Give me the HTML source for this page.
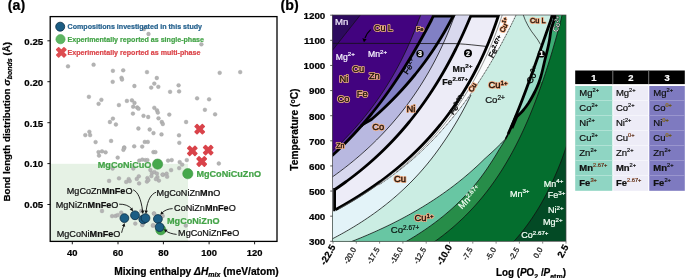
<!DOCTYPE html>
<html><head><meta charset="utf-8"><style>
html,body{margin:0;padding:0;background:#fff;}
svg{display:block;font-family:"Liberation Sans", sans-serif;will-change:transform;}
</style></head><body>
<svg xmlns="http://www.w3.org/2000/svg" width="685" height="278" viewBox="0 0 685 278">
<rect width="685" height="278" fill="#fff"/>
<text x="7.8" y="9.9" font-size="14.2" font-weight="bold" stroke="#000" stroke-width="0.22">(a)</text>
<rect x="50.2" y="163.8" width="137.8" height="77.5" fill="#e6f2e5"/>
<circle cx="144" cy="29" r="1.9" fill="#b3b3b3" stroke="#a2a2a2" stroke-width="0.4"/>
<circle cx="148.5" cy="34" r="1.9" fill="#b3b3b3" stroke="#a2a2a2" stroke-width="0.4"/>
<circle cx="201.4" cy="44.3" r="1.9" fill="#b3b3b3" stroke="#a2a2a2" stroke-width="0.4"/>
<circle cx="68.0" cy="66.3" r="1.9" fill="#b3b3b3" stroke="#a2a2a2" stroke-width="0.4"/>
<circle cx="93.6" cy="64.7" r="1.9" fill="#b3b3b3" stroke="#a2a2a2" stroke-width="0.4"/>
<circle cx="112.9" cy="70.8" r="1.9" fill="#b3b3b3" stroke="#a2a2a2" stroke-width="0.4"/>
<circle cx="123.2" cy="70.3" r="1.9" fill="#b3b3b3" stroke="#a2a2a2" stroke-width="0.4"/>
<circle cx="147.0" cy="72.1" r="1.9" fill="#b3b3b3" stroke="#a2a2a2" stroke-width="0.4"/>
<circle cx="121.5" cy="77.8" r="1.9" fill="#b3b3b3" stroke="#a2a2a2" stroke-width="0.4"/>
<circle cx="122.0" cy="79.5" r="1.9" fill="#b3b3b3" stroke="#a2a2a2" stroke-width="0.4"/>
<circle cx="112.7" cy="81.8" r="1.9" fill="#b3b3b3" stroke="#a2a2a2" stroke-width="0.4"/>
<circle cx="156.8" cy="78.0" r="1.9" fill="#b3b3b3" stroke="#a2a2a2" stroke-width="0.4"/>
<circle cx="154.3" cy="83.6" r="1.9" fill="#b3b3b3" stroke="#a2a2a2" stroke-width="0.4"/>
<circle cx="134.4" cy="86.0" r="1.9" fill="#b3b3b3" stroke="#a2a2a2" stroke-width="0.4"/>
<circle cx="151.2" cy="87.6" r="1.9" fill="#b3b3b3" stroke="#a2a2a2" stroke-width="0.4"/>
<circle cx="158.3" cy="86.8" r="1.9" fill="#b3b3b3" stroke="#a2a2a2" stroke-width="0.4"/>
<circle cx="88.9" cy="96.8" r="1.9" fill="#b3b3b3" stroke="#a2a2a2" stroke-width="0.4"/>
<circle cx="101.4" cy="99.8" r="1.9" fill="#b3b3b3" stroke="#a2a2a2" stroke-width="0.4"/>
<circle cx="98.6" cy="103.8" r="1.9" fill="#b3b3b3" stroke="#a2a2a2" stroke-width="0.4"/>
<circle cx="126.9" cy="100.9" r="1.9" fill="#b3b3b3" stroke="#a2a2a2" stroke-width="0.4"/>
<circle cx="131.9" cy="100.3" r="1.9" fill="#b3b3b3" stroke="#a2a2a2" stroke-width="0.4"/>
<circle cx="134.5" cy="102.9" r="1.9" fill="#b3b3b3" stroke="#a2a2a2" stroke-width="0.4"/>
<circle cx="118.9" cy="105.1" r="1.9" fill="#b3b3b3" stroke="#a2a2a2" stroke-width="0.4"/>
<circle cx="219.7" cy="72.8" r="1.9" fill="#b3b3b3" stroke="#a2a2a2" stroke-width="0.4"/>
<circle cx="240.2" cy="72.1" r="1.9" fill="#b3b3b3" stroke="#a2a2a2" stroke-width="0.4"/>
<circle cx="178.6" cy="85.3" r="1.9" fill="#b3b3b3" stroke="#a2a2a2" stroke-width="0.4"/>
<circle cx="170.1" cy="91.8" r="1.9" fill="#b3b3b3" stroke="#a2a2a2" stroke-width="0.4"/>
<circle cx="179.1" cy="91.4" r="1.9" fill="#b3b3b3" stroke="#a2a2a2" stroke-width="0.4"/>
<circle cx="197.1" cy="98.3" r="1.9" fill="#b3b3b3" stroke="#a2a2a2" stroke-width="0.4"/>
<circle cx="209.1" cy="99.3" r="1.9" fill="#b3b3b3" stroke="#a2a2a2" stroke-width="0.4"/>
<circle cx="133.2" cy="106.7" r="1.9" fill="#b3b3b3" stroke="#a2a2a2" stroke-width="0.4"/>
<circle cx="137.2" cy="107.5" r="1.9" fill="#b3b3b3" stroke="#a2a2a2" stroke-width="0.4"/>
<circle cx="138.5" cy="108.7" r="1.9" fill="#b3b3b3" stroke="#a2a2a2" stroke-width="0.4"/>
<circle cx="154.3" cy="107.8" r="1.9" fill="#b3b3b3" stroke="#a2a2a2" stroke-width="0.4"/>
<circle cx="157.0" cy="110.3" r="1.9" fill="#b3b3b3" stroke="#a2a2a2" stroke-width="0.4"/>
<circle cx="157.8" cy="112.6" r="1.9" fill="#b3b3b3" stroke="#a2a2a2" stroke-width="0.4"/>
<circle cx="132.9" cy="113.6" r="1.9" fill="#b3b3b3" stroke="#a2a2a2" stroke-width="0.4"/>
<circle cx="143.5" cy="115.8" r="1.9" fill="#b3b3b3" stroke="#a2a2a2" stroke-width="0.4"/>
<circle cx="148.2" cy="117.0" r="1.9" fill="#b3b3b3" stroke="#a2a2a2" stroke-width="0.4"/>
<circle cx="158.5" cy="118.3" r="1.9" fill="#b3b3b3" stroke="#a2a2a2" stroke-width="0.4"/>
<circle cx="112.9" cy="118.6" r="1.9" fill="#b3b3b3" stroke="#a2a2a2" stroke-width="0.4"/>
<circle cx="109.9" cy="122.0" r="1.9" fill="#b3b3b3" stroke="#a2a2a2" stroke-width="0.4"/>
<circle cx="115.9" cy="124.5" r="1.9" fill="#b3b3b3" stroke="#a2a2a2" stroke-width="0.4"/>
<circle cx="161.8" cy="122.0" r="1.9" fill="#b3b3b3" stroke="#a2a2a2" stroke-width="0.4"/>
<circle cx="162.8" cy="124.0" r="1.9" fill="#b3b3b3" stroke="#a2a2a2" stroke-width="0.4"/>
<circle cx="138.4" cy="128.5" r="1.9" fill="#b3b3b3" stroke="#a2a2a2" stroke-width="0.4"/>
<circle cx="149.7" cy="129.5" r="1.9" fill="#b3b3b3" stroke="#a2a2a2" stroke-width="0.4"/>
<circle cx="153.5" cy="133.1" r="1.9" fill="#b3b3b3" stroke="#a2a2a2" stroke-width="0.4"/>
<circle cx="161.5" cy="134.4" r="1.9" fill="#b3b3b3" stroke="#a2a2a2" stroke-width="0.4"/>
<circle cx="89.4" cy="131.8" r="1.9" fill="#b3b3b3" stroke="#a2a2a2" stroke-width="0.4"/>
<circle cx="85.3" cy="135.1" r="1.9" fill="#b3b3b3" stroke="#a2a2a2" stroke-width="0.4"/>
<circle cx="90.1" cy="135.1" r="1.9" fill="#b3b3b3" stroke="#a2a2a2" stroke-width="0.4"/>
<circle cx="95.6" cy="142.1" r="1.9" fill="#b3b3b3" stroke="#a2a2a2" stroke-width="0.4"/>
<circle cx="111.1" cy="140.9" r="1.9" fill="#b3b3b3" stroke="#a2a2a2" stroke-width="0.4"/>
<circle cx="144.8" cy="141.9" r="1.9" fill="#b3b3b3" stroke="#a2a2a2" stroke-width="0.4"/>
<circle cx="147.8" cy="141.9" r="1.9" fill="#b3b3b3" stroke="#a2a2a2" stroke-width="0.4"/>
<circle cx="124.2" cy="147.4" r="1.9" fill="#b3b3b3" stroke="#a2a2a2" stroke-width="0.4"/>
<circle cx="134.2" cy="146.3" r="1.9" fill="#b3b3b3" stroke="#a2a2a2" stroke-width="0.4"/>
<circle cx="142.2" cy="146.6" r="1.9" fill="#b3b3b3" stroke="#a2a2a2" stroke-width="0.4"/>
<circle cx="169.3" cy="114.6" r="1.9" fill="#b3b3b3" stroke="#a2a2a2" stroke-width="0.4"/>
<circle cx="204.9" cy="109.8" r="1.9" fill="#b3b3b3" stroke="#a2a2a2" stroke-width="0.4"/>
<circle cx="215.1" cy="114.3" r="1.9" fill="#b3b3b3" stroke="#a2a2a2" stroke-width="0.4"/>
<circle cx="186.1" cy="122.0" r="1.9" fill="#b3b3b3" stroke="#a2a2a2" stroke-width="0.4"/>
<circle cx="179.0" cy="135.3" r="1.9" fill="#b3b3b3" stroke="#a2a2a2" stroke-width="0.4"/>
<circle cx="179.3" cy="142.8" r="1.9" fill="#b3b3b3" stroke="#a2a2a2" stroke-width="0.4"/>
<circle cx="124.2" cy="148.1" r="1.9" fill="#b3b3b3" stroke="#a2a2a2" stroke-width="0.4"/>
<circle cx="123.4" cy="149.8" r="1.9" fill="#b3b3b3" stroke="#a2a2a2" stroke-width="0.4"/>
<circle cx="98.5" cy="152.1" r="1.9" fill="#b3b3b3" stroke="#a2a2a2" stroke-width="0.4"/>
<circle cx="102" cy="151.3" r="1.9" fill="#b3b3b3" stroke="#a2a2a2" stroke-width="0.4"/>
<circle cx="105.6" cy="152.3" r="1.9" fill="#b3b3b3" stroke="#a2a2a2" stroke-width="0.4"/>
<circle cx="99" cy="155.6" r="1.9" fill="#b3b3b3" stroke="#a2a2a2" stroke-width="0.4"/>
<circle cx="117.7" cy="157.6" r="1.9" fill="#b3b3b3" stroke="#a2a2a2" stroke-width="0.4"/>
<circle cx="153.4" cy="152.1" r="1.9" fill="#b3b3b3" stroke="#a2a2a2" stroke-width="0.4"/>
<circle cx="155.4" cy="152.1" r="1.9" fill="#b3b3b3" stroke="#a2a2a2" stroke-width="0.4"/>
<circle cx="139.3" cy="160.6" r="1.9" fill="#b3b3b3" stroke="#a2a2a2" stroke-width="0.4"/>
<circle cx="142.3" cy="159.6" r="1.9" fill="#b3b3b3" stroke="#a2a2a2" stroke-width="0.4"/>
<circle cx="145.3" cy="160.1" r="1.9" fill="#b3b3b3" stroke="#a2a2a2" stroke-width="0.4"/>
<circle cx="147.4" cy="160.1" r="1.9" fill="#b3b3b3" stroke="#a2a2a2" stroke-width="0.4"/>
<circle cx="168.1" cy="160.6" r="1.9" fill="#b3b3b3" stroke="#a2a2a2" stroke-width="0.4"/>
<circle cx="171.7" cy="160.1" r="1.9" fill="#b3b3b3" stroke="#a2a2a2" stroke-width="0.4"/>
<circle cx="179.7" cy="162.1" r="1.9" fill="#b3b3b3" stroke="#a2a2a2" stroke-width="0.4"/>
<circle cx="182.2" cy="164.6" r="1.9" fill="#b3b3b3" stroke="#a2a2a2" stroke-width="0.4"/>
<circle cx="179.2" cy="168.1" r="1.9" fill="#b3b3b3" stroke="#a2a2a2" stroke-width="0.4"/>
<circle cx="186.8" cy="160.1" r="1.9" fill="#b3b3b3" stroke="#a2a2a2" stroke-width="0.4"/>
<circle cx="171.1" cy="170.1" r="1.9" fill="#b3b3b3" stroke="#a2a2a2" stroke-width="0.4"/>
<circle cx="218.8" cy="163.5" r="1.9" fill="#b3b3b3" stroke="#a2a2a2" stroke-width="0.4"/>
<circle cx="163.1" cy="174.7" r="1.9" fill="#b3b3b3" stroke="#a2a2a2" stroke-width="0.4"/>
<circle cx="166.6" cy="173.7" r="1.9" fill="#b3b3b3" stroke="#a2a2a2" stroke-width="0.4"/>
<circle cx="167.1" cy="176.7" r="1.9" fill="#b3b3b3" stroke="#a2a2a2" stroke-width="0.4"/>
<circle cx="109.1" cy="180.9" r="1.9" fill="#b3b3b3" stroke="#a2a2a2" stroke-width="0.4"/>
<circle cx="119" cy="178.3" r="1.9" fill="#b3b3b3" stroke="#a2a2a2" stroke-width="0.4"/>
<circle cx="126.2" cy="181.9" r="1.9" fill="#b3b3b3" stroke="#a2a2a2" stroke-width="0.4"/>
<circle cx="128.7" cy="179.1" r="1.9" fill="#b3b3b3" stroke="#a2a2a2" stroke-width="0.4"/>
<circle cx="129.7" cy="181.1" r="1.9" fill="#b3b3b3" stroke="#a2a2a2" stroke-width="0.4"/>
<circle cx="136.8" cy="178.9" r="1.9" fill="#b3b3b3" stroke="#a2a2a2" stroke-width="0.4"/>
<circle cx="138.8" cy="176.3" r="1.9" fill="#b3b3b3" stroke="#a2a2a2" stroke-width="0.4"/>
<circle cx="139.1" cy="183.4" r="1.9" fill="#b3b3b3" stroke="#a2a2a2" stroke-width="0.4"/>
<circle cx="147.4" cy="178.1" r="1.9" fill="#b3b3b3" stroke="#a2a2a2" stroke-width="0.4"/>
<circle cx="146.9" cy="181.6" r="1.9" fill="#b3b3b3" stroke="#a2a2a2" stroke-width="0.4"/>
<circle cx="150.4" cy="170" r="1.9" fill="#b3b3b3" stroke="#a2a2a2" stroke-width="0.4"/>
<circle cx="151.9" cy="173.1" r="1.9" fill="#b3b3b3" stroke="#a2a2a2" stroke-width="0.4"/>
<circle cx="151.4" cy="176.1" r="1.9" fill="#b3b3b3" stroke="#a2a2a2" stroke-width="0.4"/>
<circle cx="154.4" cy="172.1" r="1.9" fill="#b3b3b3" stroke="#a2a2a2" stroke-width="0.4"/>
<circle cx="156.9" cy="173.6" r="1.9" fill="#b3b3b3" stroke="#a2a2a2" stroke-width="0.4"/>
<circle cx="157.4" cy="177.1" r="1.9" fill="#b3b3b3" stroke="#a2a2a2" stroke-width="0.4"/>
<circle cx="158.9" cy="180.6" r="1.9" fill="#b3b3b3" stroke="#a2a2a2" stroke-width="0.4"/>
<circle cx="155.9" cy="179.1" r="1.9" fill="#b3b3b3" stroke="#a2a2a2" stroke-width="0.4"/>
<circle cx="162.5" cy="174.6" r="1.9" fill="#b3b3b3" stroke="#a2a2a2" stroke-width="0.4"/>
<circle cx="148.4" cy="180.1" r="1.9" fill="#b3b3b3" stroke="#a2a2a2" stroke-width="0.4"/>
<circle cx="112.6" cy="168.5" r="1.9" fill="#b3b3b3" stroke="#a2a2a2" stroke-width="0.4"/>
<circle cx="133.3" cy="168.5" r="1.9" fill="#b3b3b3" stroke="#a2a2a2" stroke-width="0.4"/>
<circle cx="102" cy="211" r="1.9" fill="#b3b3b3" stroke="#a2a2a2" stroke-width="0.4"/>
<circle cx="112.1" cy="216.1" r="1.9" fill="#b3b3b3" stroke="#a2a2a2" stroke-width="0.4"/>
<circle cx="115.6" cy="215.9" r="1.9" fill="#b3b3b3" stroke="#a2a2a2" stroke-width="0.4"/>
<circle cx="117.7" cy="215.1" r="1.9" fill="#b3b3b3" stroke="#a2a2a2" stroke-width="0.4"/>
<circle cx="121.2" cy="212.6" r="1.9" fill="#b3b3b3" stroke="#a2a2a2" stroke-width="0.4"/>
<circle cx="135.3" cy="223.6" r="1.9" fill="#b3b3b3" stroke="#a2a2a2" stroke-width="0.4"/>
<circle cx="142.3" cy="225.1" r="1.9" fill="#b3b3b3" stroke="#a2a2a2" stroke-width="0.4"/>
<circle cx="141.3" cy="211" r="1.9" fill="#b3b3b3" stroke="#a2a2a2" stroke-width="0.4"/>
<circle cx="153.9" cy="213.6" r="1.9" fill="#b3b3b3" stroke="#a2a2a2" stroke-width="0.4"/>
<circle cx="152.9" cy="225.7" r="1.9" fill="#b3b3b3" stroke="#a2a2a2" stroke-width="0.4"/>
<circle cx="153.1" cy="225.1" r="1.9" fill="#b3b3b3" stroke="#a2a2a2" stroke-width="0.4"/>
<circle cx="142.5" cy="224.6" r="1.9" fill="#b3b3b3" stroke="#a2a2a2" stroke-width="0.4"/>
<circle cx="185.8" cy="225.6" r="1.9" fill="#b3b3b3" stroke="#a2a2a2" stroke-width="0.4"/>
<circle cx="154.1" cy="213.5" r="1.9" fill="#b3b3b3" stroke="#a2a2a2" stroke-width="0.4"/>
<circle cx="162.7" cy="216" r="1.9" fill="#b3b3b3" stroke="#a2a2a2" stroke-width="0.4"/>
<g transform="translate(199.7,129.2) rotate(45)" fill="#d9434a"><rect x="-5.90" y="-2.15" width="11.80" height="4.3" rx="0.8"/><rect x="-2.15" y="-5.90" width="4.3" height="11.80" rx="0.8"/></g>
<g transform="translate(192.3,150.9) rotate(45)" fill="#d9434a"><rect x="-5.90" y="-2.15" width="11.80" height="4.3" rx="0.8"/><rect x="-2.15" y="-5.90" width="4.3" height="11.80" rx="0.8"/></g>
<g transform="translate(208.2,150.1) rotate(45)" fill="#d9434a"><rect x="-5.90" y="-2.15" width="11.80" height="4.3" rx="0.8"/><rect x="-2.15" y="-5.90" width="4.3" height="11.80" rx="0.8"/></g>
<g transform="translate(201.7,161.5) rotate(45)" fill="#d9434a"><rect x="-5.90" y="-2.15" width="11.80" height="4.3" rx="0.8"/><rect x="-2.15" y="-5.90" width="4.3" height="11.80" rx="0.8"/></g>
<circle cx="157.6" cy="164.1" r="5.1" fill="#46a84c" stroke="#3c9442" stroke-width="0.6"/>
<circle cx="187.8" cy="173.7" r="5.1" fill="#46a84c" stroke="#3c9442" stroke-width="0.6"/>
<circle cx="160.8" cy="229.8" r="5.1" fill="#46a84c" stroke="#3c9442" stroke-width="0.6"/>
<circle cx="124.4" cy="218.1" r="4.4" fill="#1b5d84" stroke="#0b2c42" stroke-width="0.8"/>
<circle cx="135.0" cy="215.3" r="4.4" fill="#1b5d84" stroke="#0b2c42" stroke-width="0.8"/>
<circle cx="143.3" cy="219.4" r="4.4" fill="#1b5d84" stroke="#0b2c42" stroke-width="0.8"/>
<circle cx="145.5" cy="218.1" r="4.4" fill="#1b5d84" stroke="#0b2c42" stroke-width="0.8"/>
<circle cx="157.9" cy="219.0" r="4.4" fill="#1b5d84" stroke="#0b2c42" stroke-width="0.8"/>
<circle cx="159.6" cy="227.1" r="4.4" fill="#1b5d84" stroke="#0b2c42" stroke-width="0.8"/>
<circle cx="60.2" cy="26.7" r="4.5" fill="#1b5d84" stroke="#0b2c42" stroke-width="0.8"/>
<circle cx="60.5" cy="39.2" r="4.6" fill="#5db562" stroke="#4aa44f" stroke-width="0.6"/>
<g transform="translate(61.3,52.3) rotate(45)" fill="#dd4c50"><rect x="-5.90" y="-2.15" width="11.80" height="4.3" rx="0.8"/><rect x="-2.15" y="-5.90" width="4.3" height="11.80" rx="0.8"/></g>
<text x="67.6" y="28.9" font-size="7.1" font-weight="bold" fill="#27638f" stroke="#27638f" stroke-width="0.22">Compositions investigated in this study</text>
<text x="67.6" y="41.6" font-size="7.1" font-weight="bold" fill="#45a449" stroke="#45a449" stroke-width="0.22">Experimentally reported as single-phase</text>
<text x="67.6" y="54.6" font-size="7.1" font-weight="bold" fill="#dc474c" stroke="#dc474c" stroke-width="0.22">Experimentally reported as multi-phase</text>
<text x="132.5" y="193.6" font-size="9.1" fill="#111" text-anchor="end" stroke="#111" stroke-width="0.22"><tspan font-weight="normal">MgCoZn</tspan><tspan font-weight="bold">MnFe</tspan><tspan font-weight="normal">O</tspan></text>
<text x="118.4" y="207.7" font-size="9.1" fill="#111" text-anchor="end" stroke="#111" stroke-width="0.22"><tspan font-weight="normal">MgNiZn</tspan><tspan font-weight="bold">MnFe</tspan><tspan font-weight="normal">O</tspan></text>
<text x="120.4" y="236.7" font-size="9.1" fill="#111" text-anchor="end" stroke="#111" stroke-width="0.22"><tspan font-weight="normal">MgCoNi</tspan><tspan font-weight="bold">MnFe</tspan><tspan font-weight="normal">O</tspan></text>
<text x="156.6" y="196.4" font-size="9.1" fill="#111" text-anchor="start" stroke="#111" stroke-width="0.22"><tspan font-weight="normal">MgCoNiZn</tspan><tspan font-weight="bold">Mn</tspan><tspan font-weight="normal">O</tspan></text>
<text x="174.1" y="211.2" font-size="9.1" fill="#111" text-anchor="start" stroke="#111" stroke-width="0.22"><tspan font-weight="normal">CoNiZn</tspan><tspan font-weight="bold">MnFe</tspan><tspan font-weight="normal">O</tspan></text>
<text x="178.1" y="236.4" font-size="9.1" fill="#111" text-anchor="start" stroke="#111" stroke-width="0.22"><tspan font-weight="normal">MgCoNiZn</tspan><tspan font-weight="bold">Fe</tspan><tspan font-weight="normal">O</tspan></text>
<text x="167" y="224.4" font-size="9.1" font-weight="bold" fill="#43a347" stroke="#43a347" stroke-width="0.22">MgCoNiZnO</text>
<text x="97.8" y="168.2" font-size="9.1" font-weight="bold" fill="#43a347" stroke="#43a347" stroke-width="0.22">MgCoNiCuO</text>
<text x="196.4" y="177.4" font-size="9.1" font-weight="bold" fill="#43a347" stroke="#43a347" stroke-width="0.22">MgCoNiCuZnO</text>
<path d="M133.2,189.8 C138,192 141,199 142.6,211" fill="none" stroke="#111" stroke-width="0.9"/><polygon points="142.90,214.00 140.91,210.76 144.30,210.46" fill="#111"/>
<path d="M156.2,192.2 C151,194 147.5,200 146.1,211" fill="none" stroke="#111" stroke-width="0.9"/><polygon points="145.90,214.00 144.50,210.46 147.89,210.76" fill="#111"/>
<path d="M119.2,204.2 C124,204 129,205.5 131.6,208.8" fill="none" stroke="#111" stroke-width="0.9"/><polygon points="133.20,211.20 129.71,209.69 132.32,207.50" fill="#111"/>
<path d="M121.6,232.8 C122.3,230 123,228 123.8,226" fill="none" stroke="#111" stroke-width="0.9"/><polygon points="124.60,223.00 125.17,226.76 121.93,225.71" fill="#111"/>
<path d="M172.6,208.6 C168,208.8 164.5,210.5 162.3,212.6" fill="none" stroke="#111" stroke-width="0.9"/><polygon points="160.20,214.80 161.40,211.19 163.81,213.60" fill="#111"/>
<path d="M176.6,234.4 C172,234 168,232.5 166.4,231.2" fill="none" stroke="#111" stroke-width="0.9"/><polygon points="163.80,229.20 167.56,229.76 165.61,232.54" fill="#111"/>
<rect x="50.2" y="16.6" width="226.8" height="224.8" fill="none" stroke="#000" stroke-width="1.3"/>
<line x1="47.4" y1="40.8" x2="50.2" y2="40.8" stroke="#000" stroke-width="0.9"/>
<text x="43.2" y="44.6" font-size="9.7" font-weight="bold" text-anchor="end" stroke="#000" stroke-width="0.22">0.25</text>
<line x1="47.4" y1="81.7" x2="50.2" y2="81.7" stroke="#000" stroke-width="0.9"/>
<text x="43.2" y="85.5" font-size="9.7" font-weight="bold" text-anchor="end" stroke="#000" stroke-width="0.22">0.20</text>
<line x1="47.4" y1="122.7" x2="50.2" y2="122.7" stroke="#000" stroke-width="0.9"/>
<text x="43.2" y="126.5" font-size="9.7" font-weight="bold" text-anchor="end" stroke="#000" stroke-width="0.22">0.15</text>
<line x1="47.4" y1="163.6" x2="50.2" y2="163.6" stroke="#000" stroke-width="0.9"/>
<text x="43.2" y="167.4" font-size="9.7" font-weight="bold" text-anchor="end" stroke="#000" stroke-width="0.22">0.10</text>
<line x1="47.4" y1="204.5" x2="50.2" y2="204.5" stroke="#000" stroke-width="0.9"/>
<text x="43.2" y="208.3" font-size="9.7" font-weight="bold" text-anchor="end" stroke="#000" stroke-width="0.22">0.05</text>
<line x1="72.3" y1="241.4" x2="72.3" y2="244.3" stroke="#000" stroke-width="0.9"/>
<text x="72.3" y="255.9" font-size="9.4" font-weight="bold" text-anchor="middle" stroke="#000" stroke-width="0.22">40</text>
<line x1="118.0" y1="241.4" x2="118.0" y2="244.3" stroke="#000" stroke-width="0.9"/>
<text x="118.0" y="255.9" font-size="9.4" font-weight="bold" text-anchor="middle" stroke="#000" stroke-width="0.22">60</text>
<line x1="163.4" y1="241.4" x2="163.4" y2="244.3" stroke="#000" stroke-width="0.9"/>
<text x="163.4" y="255.9" font-size="9.4" font-weight="bold" text-anchor="middle" stroke="#000" stroke-width="0.22">80</text>
<line x1="209.1" y1="241.4" x2="209.1" y2="244.3" stroke="#000" stroke-width="0.9"/>
<text x="209.1" y="255.9" font-size="9.4" font-weight="bold" text-anchor="middle" stroke="#000" stroke-width="0.22">100</text>
<line x1="254.6" y1="241.4" x2="254.6" y2="244.3" stroke="#000" stroke-width="0.9"/>
<text x="254.6" y="255.9" font-size="9.4" font-weight="bold" text-anchor="middle" stroke="#000" stroke-width="0.22">120</text>
<text x="114.3" y="274.8" font-size="10.2" font-weight="bold" stroke="#000" stroke-width="0.22">Mixing enthalpy <tspan font-style="italic">ΔH</tspan><tspan font-style="italic" font-size="7" dy="2">mix</tspan><tspan dy="-2"> (meV/atom)</tspan></text>
<text transform="translate(9.7,121.8) rotate(-90)" text-anchor="middle" font-size="9.75" font-weight="bold" stroke="#000" stroke-width="0.22">Bond length distribution <tspan font-style="italic">σ</tspan><tspan font-style="italic" font-size="7" dy="2">bonds</tspan><tspan dy="-2"> (Å)</tspan></text>
<text x="280.6" y="9.9" font-size="14.2" font-weight="bold" stroke="#000" stroke-width="0.22">(b)</text>
<clipPath id="pc"><rect x="332.5" y="15.0" width="233.5" height="226.3"/></clipPath>
<g clip-path="url(#pc)">
<rect x="332.5" y="15.0" width="233.5" height="226.3" fill="#034a25"/>
<polygon points="300.00,13.00 594.80,13.00 594.67,14.00 594.53,15.00 594.39,16.00 594.25,17.00 594.11,18.00 593.97,19.00 593.83,20.00 593.68,21.00 593.54,22.00 593.40,23.00 593.25,24.00 593.11,25.00 592.96,26.00 592.81,27.00 592.67,28.00 592.52,29.00 592.37,30.00 592.22,31.00 592.06,32.00 591.91,33.00 591.76,34.00 591.61,35.00 591.45,36.00 591.29,37.00 591.14,38.00 590.98,39.00 590.82,40.00 590.66,41.00 590.50,42.00 590.34,43.00 590.18,44.00 590.01,45.00 589.85,46.00 589.69,47.00 589.52,48.00 589.35,49.00 589.18,50.00 589.02,51.00 588.85,52.00 588.67,53.00 588.50,54.00 588.33,55.00 588.15,56.00 587.98,57.00 587.80,58.00 587.62,59.00 587.45,60.00 587.27,61.00 587.09,62.00 586.90,63.00 586.72,64.00 586.54,65.00 586.35,66.00 586.16,67.00 585.98,68.00 585.79,69.00 585.60,70.00 585.41,71.00 585.21,72.00 585.02,73.00 584.83,74.00 584.63,75.00 584.43,76.00 584.23,77.00 584.03,78.00 583.83,79.00 583.63,80.00 583.42,81.00 583.22,82.00 583.01,83.00 582.80,84.00 582.59,85.00 582.38,86.00 582.17,87.00 581.96,88.00 581.74,89.00 581.53,90.00 581.31,91.00 581.09,92.00 580.87,93.00 580.64,94.00 580.42,95.00 580.19,96.00 579.97,97.00 579.74,98.00 579.51,99.00 579.28,100.00 579.04,101.00 578.81,102.00 578.57,103.00 578.33,104.00 578.09,105.00 577.85,106.00 577.60,107.00 577.36,108.00 577.11,109.00 576.86,110.00 576.61,111.00 576.36,112.00 576.10,113.00 575.85,114.00 575.59,115.00 575.33,116.00 575.07,117.00 574.80,118.00 574.53,119.00 574.27,120.00 574.00,121.00 573.72,122.00 573.45,123.00 573.17,124.00 572.89,125.00 572.61,126.00 572.33,127.00 572.04,128.00 571.76,129.00 571.47,130.00 571.18,131.00 570.88,132.00 570.58,133.00 570.29,134.00 569.98,135.00 569.68,136.00 569.37,137.00 569.07,138.00 568.75,139.00 568.44,140.00 568.12,141.00 567.81,142.00 567.48,143.00 567.16,144.00 566.83,145.00 566.50,146.00 566.17,147.00 565.84,148.00 565.50,149.00 565.16,150.00 564.81,151.00 564.47,152.00 564.12,153.00 563.76,154.00 563.41,155.00 563.05,156.00 562.69,157.00 562.32,158.00 561.95,159.00 561.58,160.00 561.19,161.00 560.81,162.00 560.41,163.00 560.02,164.00 559.62,165.00 559.22,166.00 558.81,167.00 558.40,168.00 557.99,169.00 557.58,170.00 557.16,171.00 556.74,172.00 556.31,173.00 555.88,174.00 555.44,175.00 555.01,176.00 554.57,177.00 554.12,178.00 553.67,179.00 553.22,180.00 552.76,181.00 552.30,182.00 551.83,183.00 551.36,184.00 550.88,185.00 550.40,186.00 549.92,187.00 549.43,188.00 548.94,189.00 548.44,190.00 547.94,191.00 547.43,192.00 546.91,193.00 546.40,194.00 545.87,195.00 545.34,196.00 544.81,197.00 544.27,198.00 543.72,199.00 543.17,200.00 542.62,201.00 542.06,202.00 541.49,203.00 540.91,204.00 540.33,205.00 539.75,206.00 539.15,207.00 538.55,208.00 537.95,209.00 537.33,210.00 536.71,211.00 536.09,212.00 535.45,213.00 534.81,214.00 534.17,215.00 533.51,216.00 532.85,217.00 532.18,218.00 531.50,219.00 530.81,220.00 530.12,221.00 529.41,222.00 528.70,223.00 527.98,224.00 527.25,225.00 526.51,226.00 525.77,227.00 525.01,228.00 524.24,229.00 523.47,230.00 522.68,231.00 521.89,232.00 521.08,233.00 520.26,234.00 519.44,235.00 518.60,236.00 517.75,237.00 516.89,238.00 516.02,239.00 515.13,240.00 514.23,241.00 513.33,242.00 512.40,243.00 512.11,243.30 300.00,243.30" fill="#046e2e"/>
<polygon points="300.00,13.00 562.49,13.00 562.27,14.00 562.06,15.00 561.84,16.00 561.62,17.00 561.40,18.00 561.18,19.00 560.96,20.00 560.69,21.00 560.43,22.00 560.16,23.00 559.89,24.00 559.63,25.00 559.36,26.00 559.09,27.00 558.82,28.00 558.54,29.00 558.27,30.00 558.00,31.00 557.72,32.00 557.45,33.00 557.17,34.00 556.89,35.00 556.61,36.00 556.33,37.00 556.05,38.00 555.77,39.00 555.49,40.00 555.20,41.00 554.92,42.00 554.63,43.00 554.34,44.00 554.05,45.00 553.76,46.00 553.47,47.00 553.18,48.00 552.89,49.00 552.59,50.00 552.29,51.00 552.00,52.00 551.70,53.00 551.40,54.00 551.10,55.00 550.79,56.00 550.49,57.00 550.19,58.00 549.88,59.00 549.57,60.00 549.26,61.00 548.95,62.00 548.64,63.00 548.33,64.00 548.01,65.00 547.69,66.00 547.38,67.00 547.06,68.00 546.73,69.00 546.41,70.00 546.09,71.00 545.76,72.00 545.44,73.00 545.11,74.00 544.78,75.00 544.44,76.00 544.11,77.00 543.77,78.00 543.44,79.00 543.10,80.00 542.76,81.00 542.42,82.00 542.07,83.00 541.72,84.00 541.38,85.00 541.03,86.00 540.68,87.00 540.32,88.00 539.97,89.00 539.61,90.00 539.25,91.00 538.89,92.00 538.52,93.00 538.16,94.00 537.79,95.00 537.42,96.00 537.05,97.00 536.68,98.00 536.30,99.00 535.92,100.00 535.54,101.00 535.16,102.00 534.77,103.00 534.39,104.00 534.00,105.00 533.61,106.00 533.21,107.00 532.81,108.00 532.42,109.00 532.01,110.00 531.61,111.00 531.20,112.00 530.79,113.00 530.38,114.00 529.97,115.00 529.55,116.00 529.13,117.00 528.71,118.00 528.28,119.00 527.85,120.00 527.42,121.00 526.99,122.00 526.55,123.00 526.11,124.00 525.67,125.00 525.22,126.00 524.77,127.00 524.32,128.00 523.87,129.00 523.41,130.00 522.95,131.00 522.48,132.00 522.01,133.00 521.54,134.00 521.07,135.00 520.59,136.00 520.11,137.00 519.62,138.00 519.13,139.00 518.64,140.00 518.14,141.00 517.64,142.00 517.14,143.00 516.63,144.00 516.12,145.00 515.60,146.00 515.08,147.00 514.56,148.00 514.03,149.00 513.50,150.00 512.96,151.00 512.42,152.00 511.88,153.00 511.33,154.00 510.77,155.00 510.22,156.00 509.65,157.00 509.09,158.00 508.51,159.00 507.94,160.00 507.36,161.00 506.77,162.00 506.18,163.00 505.58,164.00 504.98,165.00 504.37,166.00 503.76,167.00 503.14,168.00 502.52,169.00 501.89,170.00 501.25,171.00 500.61,172.00 499.97,173.00 499.31,174.00 498.66,175.00 497.99,176.00 497.32,177.00 496.65,178.00 495.96,179.00 495.27,180.00 494.58,181.00 493.88,182.00 493.17,183.00 492.45,184.00 491.73,185.00 491.00,186.00 490.26,187.00 489.52,188.00 488.77,189.00 488.01,190.00 487.24,191.00 486.47,192.00 485.68,193.00 484.89,194.00 484.09,195.00 483.29,196.00 482.47,197.00 481.65,198.00 480.81,199.00 479.97,200.00 479.12,201.00 478.26,202.00 477.39,203.00 476.51,204.00 475.63,205.00 474.73,206.00 473.82,207.00 472.90,208.00 471.97,209.00 471.03,210.00 470.08,211.00 469.12,212.00 468.15,213.00 467.17,214.00 466.17,215.00 465.17,216.00 464.15,217.00 463.12,218.00 462.08,219.00 461.02,220.00 459.95,221.00 458.87,222.00 457.78,223.00 456.67,224.00 455.55,225.00 454.41,226.00 453.26,227.00 452.10,228.00 450.92,229.00 449.72,230.00 448.51,231.00 447.28,232.00 446.04,233.00 444.78,234.00 443.50,235.00 442.21,236.00 440.90,237.00 439.57,238.00 438.22,239.00 436.86,240.00 435.47,241.00 434.05,242.00 432.59,243.00 432.15,243.30 300.00,243.30" fill="#278d49"/>
<polygon points="300.00,13.00 555.31,13.00 555.16,14.00 555.00,15.00 554.83,16.00 554.64,17.00 554.44,18.00 554.23,19.00 554.00,20.00 553.74,21.00 553.45,22.00 553.13,23.00 552.80,24.00 552.46,25.00 552.12,26.00 551.79,27.00 551.49,28.00 551.22,29.00 551.00,30.00 550.81,31.00 550.64,32.00 550.49,33.00 550.35,34.00 550.22,35.00 550.09,36.00 549.96,37.00 549.82,38.00 549.67,39.00 549.50,40.00 549.32,41.00 549.13,42.00 548.93,43.00 548.72,44.00 548.51,45.00 548.29,46.00 548.06,47.00 547.83,48.00 547.60,49.00 547.36,50.00 547.12,51.00 546.88,52.00 546.63,53.00 546.38,54.00 546.13,55.00 545.88,56.00 545.64,57.00 545.39,58.00 545.14,59.00 544.90,60.00 544.66,61.00 544.42,62.00 544.19,63.00 543.96,64.00 543.73,65.00 543.50,66.00 543.27,67.00 543.04,68.00 542.81,69.00 542.57,70.00 542.33,71.00 542.08,72.00 541.83,73.00 541.57,74.00 541.30,75.00 541.02,76.00 540.73,77.00 540.43,78.00 540.12,79.00 539.80,80.00 539.46,81.00 539.10,82.00 538.73,83.00 538.34,84.00 537.94,85.00 537.52,86.00 537.09,87.00 536.64,88.00 536.18,89.00 535.71,90.00 535.23,91.00 534.73,92.00 534.22,93.00 533.70,94.00 533.18,95.00 532.64,96.00 532.09,97.00 531.54,98.00 530.97,99.00 530.40,100.00 529.81,101.00 529.20,102.00 528.57,103.00 527.90,104.00 527.22,105.00 526.51,106.00 525.77,107.00 525.01,108.00 524.22,109.00 523.40,110.00 522.54,111.00 521.62,112.00 520.65,113.00 519.63,114.00 518.58,115.00 517.50,116.00 515.71,117.00 515.29,118.00 514.88,119.00 514.46,120.00 514.04,121.00 513.62,122.00 513.20,123.00 512.78,124.00 512.35,125.00 511.92,126.00 511.49,127.00 511.06,128.00 510.62,129.00 510.18,130.00 509.74,131.00 509.30,132.00 508.85,133.00 508.41,134.00 507.96,135.00 507.41,136.00 506.86,137.00 506.31,138.00 505.75,139.00 505.14,140.00 504.54,141.00 503.92,142.00 503.30,143.00 502.68,144.00 502.05,145.00 501.42,146.00 500.78,147.00 500.14,148.00 499.49,149.00 498.84,150.00 498.27,151.00 497.69,152.00 497.10,153.00 496.50,154.00 495.90,155.00 495.29,156.00 494.67,157.00 494.04,158.00 493.41,159.00 492.77,160.00 492.12,161.00 491.47,162.00 490.80,163.00 490.13,164.00 489.49,165.00 488.84,166.00 488.18,167.00 487.51,168.00 486.83,169.00 486.15,170.00 485.45,171.00 484.75,172.00 484.04,173.00 483.32,174.00 482.59,175.00 481.86,176.00 481.11,177.00 480.35,178.00 479.59,179.00 478.81,180.00 478.03,181.00 477.23,182.00 476.43,183.00 475.61,184.00 474.79,185.00 473.95,186.00 473.11,187.00 472.25,188.00 471.38,189.00 470.51,190.00 469.62,191.00 468.72,192.00 467.81,193.00 466.89,194.00 465.95,195.00 465.01,196.00 464.05,197.00 463.08,198.00 462.10,199.00 461.11,200.00 460.10,201.00 459.08,202.00 458.05,203.00 457.01,204.00 455.95,205.00 454.88,206.00 453.79,207.00 452.69,208.00 451.58,209.00 450.45,210.00 449.31,211.00 448.15,212.00 446.98,213.00 445.80,214.00 444.60,215.00 443.38,216.00 442.15,217.00 440.90,218.00 439.63,219.00 438.35,220.00 437.05,221.00 435.73,222.00 434.40,223.00 433.05,224.00 431.68,225.00 430.29,226.00 428.88,227.00 427.46,228.00 426.01,229.00 424.55,230.00 423.06,231.00 421.56,232.00 420.03,233.00 418.48,234.00 416.92,235.00 415.33,236.00 413.71,237.00 412.08,238.00 410.42,239.00 408.74,240.00 407.03,241.00 405.35,242.00 403.67,243.00 403.16,243.30 300.00,243.30" fill="#68c6a3"/>
<polygon points="552.64,13.00 552.39,14.00 552.15,15.00 551.90,16.00 551.65,17.00 551.40,18.00 551.14,19.00 550.89,20.00 550.54,21.00 550.18,22.00 549.83,23.00 549.48,24.00 549.13,25.00 548.77,26.00 548.42,27.00 548.07,28.00 547.72,29.00 547.37,30.00 547.01,31.00 546.66,32.00 546.31,33.00 545.96,34.00 545.61,35.00 545.26,36.00 544.91,37.00 544.56,38.00 544.20,39.00 543.85,40.00 543.50,41.00 543.15,42.00 542.80,43.00 542.45,44.00 542.10,45.00 541.75,46.00 541.40,47.00 541.04,48.00 540.69,49.00 540.34,50.00 539.99,51.00 539.64,52.00 539.28,53.00 538.93,54.00 538.58,55.00 538.23,56.00 537.87,57.00 537.52,58.00 537.17,59.00 536.81,60.00 536.46,61.00 536.10,62.00 535.75,63.00 535.39,64.00 535.04,65.00 534.68,66.00 534.32,67.00 533.97,68.00 533.61,69.00 533.25,70.00 532.89,71.00 532.53,72.00 532.17,73.00 531.81,74.00 531.45,75.00 531.09,76.00 530.73,77.00 530.36,78.00 530.00,79.00 529.64,80.00 529.27,81.00 528.91,82.00 528.54,83.00 528.17,84.00 527.80,85.00 527.43,86.00 527.06,87.00 526.69,88.00 526.32,89.00 525.95,90.00 525.57,91.00 525.20,92.00 524.82,93.00 524.45,94.00 524.07,95.00 523.69,96.00 523.31,97.00 522.93,98.00 522.54,99.00 522.16,100.00 521.77,101.00 521.39,102.00 521.00,103.00 520.61,104.00 520.22,105.00 519.83,106.00 519.43,107.00 519.04,108.00 518.64,109.00 518.24,110.00 517.84,111.00 517.44,112.00 517.04,113.00 516.63,114.00 516.23,115.00 515.82,116.00 515.61,116.50 515.61,116.50 517.50,116.00 518.58,115.00 519.63,114.00 520.65,113.00 521.62,112.00 522.54,111.00 523.40,110.00 524.22,109.00 525.01,108.00 525.77,107.00 526.51,106.00 527.22,105.00 527.90,104.00 528.57,103.00 529.20,102.00 529.81,101.00 530.40,100.00 530.97,99.00 531.54,98.00 532.09,97.00 532.64,96.00 533.18,95.00 533.70,94.00 534.22,93.00 534.73,92.00 535.23,91.00 535.71,90.00 536.18,89.00 536.64,88.00 537.09,87.00 537.52,86.00 537.94,85.00 538.34,84.00 538.73,83.00 539.10,82.00 539.46,81.00 539.80,80.00 540.12,79.00 540.43,78.00 540.73,77.00 541.02,76.00 541.30,75.00 541.57,74.00 541.83,73.00 542.08,72.00 542.33,71.00 542.57,70.00 542.81,69.00 543.04,68.00 543.27,67.00 543.50,66.00 543.73,65.00 543.96,64.00 544.19,63.00 544.42,62.00 544.66,61.00 544.90,60.00 545.14,59.00 545.39,58.00 545.64,57.00 545.88,56.00 546.13,55.00 546.38,54.00 546.63,53.00 546.88,52.00 547.12,51.00 547.36,50.00 547.60,49.00 547.83,48.00 548.06,47.00 548.29,46.00 548.51,45.00 548.72,44.00 548.93,43.00 549.13,42.00 549.32,41.00 549.50,40.00 549.67,39.00 549.82,38.00 549.96,37.00 550.09,36.00 550.22,35.00 550.35,34.00 550.49,33.00 550.64,32.00 550.81,31.00 551.00,30.00 551.22,29.00 551.49,28.00 551.79,27.00 552.12,26.00 552.46,25.00 552.80,24.00 553.13,23.00 553.45,22.00 553.74,21.00 554.00,20.00 554.23,19.00 554.44,18.00 554.64,17.00 554.83,16.00 555.00,15.00 555.16,14.00 555.31,13.00" fill="#9adcc8"/>
<polygon points="300.00,13.00 552.64,13.00 552.39,14.00 552.15,15.00 551.90,16.00 551.65,17.00 551.40,18.00 551.14,19.00 550.89,20.00 550.54,21.00 550.18,22.00 549.83,23.00 549.48,24.00 549.13,25.00 548.77,26.00 548.42,27.00 548.07,28.00 547.72,29.00 547.37,30.00 547.01,31.00 546.66,32.00 546.31,33.00 545.96,34.00 545.61,35.00 545.26,36.00 544.91,37.00 544.56,38.00 544.20,39.00 543.85,40.00 543.50,41.00 543.15,42.00 542.80,43.00 542.45,44.00 542.10,45.00 541.75,46.00 541.40,47.00 541.04,48.00 540.69,49.00 540.34,50.00 539.99,51.00 539.64,52.00 539.28,53.00 538.93,54.00 538.58,55.00 538.23,56.00 537.87,57.00 537.52,58.00 537.17,59.00 536.81,60.00 536.46,61.00 536.10,62.00 535.75,63.00 535.39,64.00 535.04,65.00 534.68,66.00 534.32,67.00 533.97,68.00 533.61,69.00 533.25,70.00 532.89,71.00 532.53,72.00 532.17,73.00 531.81,74.00 531.45,75.00 531.09,76.00 530.73,77.00 530.36,78.00 530.00,79.00 529.64,80.00 529.27,81.00 528.91,82.00 528.54,83.00 528.17,84.00 527.80,85.00 527.43,86.00 527.06,87.00 526.69,88.00 526.32,89.00 525.95,90.00 525.57,91.00 525.20,92.00 524.82,93.00 524.45,94.00 524.07,95.00 523.69,96.00 523.31,97.00 522.93,98.00 522.54,99.00 522.16,100.00 521.77,101.00 521.39,102.00 521.00,103.00 520.61,104.00 520.22,105.00 519.83,106.00 519.43,107.00 519.04,108.00 518.64,109.00 518.24,110.00 517.84,111.00 517.44,112.00 517.04,113.00 516.63,114.00 516.23,115.00 515.82,116.00 515.41,117.00 514.99,118.00 514.58,119.00 514.16,120.00 513.74,121.00 513.32,122.00 512.90,123.00 512.48,124.00 512.05,125.00 511.62,126.00 511.19,127.00 510.76,128.00 510.32,129.00 509.88,130.00 509.44,131.00 509.00,132.00 508.55,133.00 508.11,134.00 507.66,135.00 507.11,136.00 506.56,137.00 506.01,138.00 505.45,139.00 504.47,140.00 503.49,141.00 502.50,142.00 501.51,143.00 500.50,144.00 499.49,145.00 498.47,146.00 497.45,147.00 496.41,148.00 495.37,149.00 494.31,150.00 493.25,151.00 492.18,152.00 491.10,153.00 490.02,154.00 488.92,155.00 487.82,156.00 486.70,157.00 485.58,158.00 484.45,159.00 483.43,160.00 482.41,161.00 481.38,162.00 480.34,163.00 479.29,164.00 478.23,165.00 477.16,166.00 476.08,167.00 474.99,168.00 473.88,169.00 472.77,170.00 471.65,171.00 470.51,172.00 469.37,173.00 468.21,174.00 467.04,175.00 465.86,176.00 464.67,177.00 463.46,178.00 462.24,179.00 461.02,180.00 459.77,181.00 458.52,182.00 457.25,183.00 455.97,184.00 454.68,185.00 453.37,186.00 452.05,187.00 450.72,188.00 449.37,189.00 448.01,190.00 446.63,191.00 445.24,192.00 443.83,193.00 442.41,194.00 440.97,195.00 439.52,196.00 438.05,197.00 436.57,198.00 435.06,199.00 433.55,200.00 432.01,201.00 430.46,202.00 428.89,203.00 427.31,204.00 425.70,205.00 424.08,206.00 422.44,207.00 420.78,208.00 419.10,209.00 417.40,210.00 415.68,211.00 413.94,212.00 412.18,213.00 410.40,214.00 408.60,215.00 406.78,216.00 404.93,217.00 403.06,218.00 401.17,219.00 399.26,220.00 397.32,221.00 395.36,222.00 393.38,223.00 391.37,224.00 389.33,225.00 387.27,226.00 385.18,227.00 383.07,228.00 380.92,229.00 378.75,230.00 376.56,231.00 374.33,232.00 372.07,233.00 369.79,234.00 367.47,235.00 365.12,236.00 362.74,237.00 360.33,238.00 357.88,239.00 355.40,240.00 352.89,241.00 350.36,242.00 347.79,243.00 347.02,243.30 300.00,243.30" fill="#cbede3"/>
<polygon points="555.31,13.00 555.16,14.00 555.00,15.00 554.83,16.00 554.64,17.00 554.44,18.00 554.23,19.00 554.00,20.00 553.74,21.00 553.45,22.00 553.13,23.00 552.80,24.00 552.46,25.00 552.12,26.00 551.79,27.00 551.49,28.00 551.22,29.00 551.00,30.00 550.81,31.00 550.64,32.00 550.49,33.00 550.35,34.00 550.22,35.00 550.09,36.00 549.96,37.00 549.82,38.00 549.67,39.00 549.50,40.00 549.32,41.00 549.13,42.00 548.93,43.00 548.72,44.00 548.51,45.00 548.29,46.00 548.06,47.00 547.83,48.00 547.60,49.00 547.36,50.00 547.12,51.00 546.88,52.00 546.63,53.00 546.38,54.00 546.13,55.00 545.88,56.00 545.64,57.00 545.39,58.00 545.14,59.00 544.90,60.00 544.66,61.00 544.42,62.00 544.19,63.00 543.96,64.00 543.73,65.00 543.50,66.00 543.27,67.00 543.04,68.00 542.81,69.00 542.57,70.00 542.33,71.00 542.08,72.00 541.83,73.00 541.57,74.00 541.30,75.00 541.02,76.00 540.73,77.00 540.43,78.00 540.12,79.00 539.80,80.00 539.46,81.00 539.10,82.00 542.42,82.00 542.76,81.00 543.10,80.00 543.44,79.00 543.77,78.00 544.11,77.00 544.44,76.00 544.78,75.00 545.11,74.00 545.44,73.00 545.76,72.00 546.09,71.00 546.41,70.00 546.73,69.00 547.06,68.00 547.38,67.00 547.69,66.00 548.01,65.00 548.33,64.00 548.64,63.00 548.95,62.00 549.26,61.00 549.57,60.00 549.88,59.00 550.19,58.00 550.49,57.00 550.79,56.00 551.10,55.00 551.40,54.00 551.70,53.00 552.00,52.00 552.29,51.00 552.59,50.00 552.89,49.00 553.18,48.00 553.47,47.00 553.76,46.00 554.05,45.00 554.34,44.00 554.63,43.00 554.92,42.00 555.20,41.00 555.49,40.00 555.77,39.00 556.05,38.00 556.33,37.00 556.61,36.00 556.89,35.00 557.17,34.00 557.45,33.00 557.72,32.00 558.00,31.00 558.27,30.00 558.54,29.00 558.82,28.00 559.09,27.00 559.36,26.00 559.63,25.00 559.89,24.00 560.16,23.00 560.43,22.00 560.69,21.00 560.96,20.00 561.18,19.00 561.40,18.00 561.62,17.00 561.84,16.00 562.06,15.00 562.27,14.00 562.49,13.00" fill="#3cad74"/>
<polygon points="300.00,13.00 502.05,13.00 501.75,14.00 501.46,15.00 501.16,16.00 500.86,17.00 500.55,18.00 500.25,19.00 499.94,20.00 499.63,21.00 499.32,22.00 499.01,23.00 498.70,24.00 498.38,25.00 498.07,26.00 497.75,27.00 497.43,28.00 497.11,29.00 496.78,30.00 496.46,31.00 496.13,32.00 495.80,33.00 495.47,34.00 495.13,35.00 494.80,36.00 494.46,37.00 494.12,38.00 493.78,39.00 493.44,40.00 493.09,41.00 492.75,42.00 492.40,43.00 492.05,44.00 491.70,45.00 491.34,46.00 490.98,47.00 490.62,48.00 490.26,49.00 489.90,50.00 489.53,51.00 489.16,52.00 488.79,53.00 488.42,54.00 488.05,55.00 487.67,56.00 487.29,57.00 486.91,58.00 486.53,59.00 486.14,60.00 485.75,61.00 485.36,62.00 484.97,63.00 484.57,64.00 484.17,65.00 483.77,66.00 483.37,67.00 482.96,68.00 482.55,69.00 482.14,70.00 481.73,71.00 481.31,72.00 480.89,73.00 480.47,74.00 480.05,75.00 479.62,76.00 479.19,77.00 478.76,78.00 478.32,79.00 477.88,80.00 477.44,81.00 477.00,82.00 476.55,83.00 476.10,84.00 475.65,85.00 475.19,86.00 474.73,87.00 474.27,88.00 473.80,89.00 473.33,90.00 472.86,91.00 472.39,92.00 471.91,93.00 471.43,94.00 470.94,95.00 470.45,96.00 469.96,97.00 469.47,98.00 468.97,99.00 468.47,100.00 467.96,101.00 467.45,102.00 466.94,103.00 466.42,104.00 465.90,105.00 465.38,106.00 464.85,107.00 464.32,108.00 463.79,109.00 463.25,110.00 462.70,111.00 462.16,112.00 461.61,113.00 461.05,114.00 460.49,115.00 459.93,116.00 459.36,117.00 458.79,118.00 458.21,119.00 457.63,120.00 457.05,121.00 456.46,122.00 455.87,123.00 455.27,124.00 454.66,125.00 454.06,126.00 453.44,127.00 452.83,128.00 452.21,129.00 451.58,130.00 450.95,131.00 450.31,132.00 449.67,133.00 449.02,134.00 448.37,135.00 447.71,136.00 447.05,137.00 446.38,138.00 445.71,139.00 445.03,140.00 444.35,141.00 443.66,142.00 442.96,143.00 442.26,144.00 441.58,145.00 440.88,146.00 440.19,147.00 439.48,148.00 438.77,149.00 438.06,150.00 437.33,151.00 436.60,152.00 435.86,153.00 435.12,154.00 434.37,155.00 433.61,156.00 432.84,157.00 432.07,158.00 431.29,159.00 430.50,160.00 429.70,161.00 428.90,162.00 428.09,163.00 427.27,164.00 426.44,165.00 425.60,166.00 424.76,167.00 423.91,168.00 423.05,169.00 422.18,170.00 421.30,171.00 420.41,172.00 419.52,173.00 418.61,174.00 417.70,175.00 416.78,176.00 415.84,177.00 414.90,178.00 413.95,179.00 412.99,180.00 412.02,181.00 411.04,182.00 410.05,183.00 409.04,184.00 408.03,185.00 407.01,186.00 405.97,187.00 404.93,188.00 403.87,189.00 402.81,190.00 401.73,191.00 400.64,192.00 399.53,193.00 398.42,194.00 397.29,195.00 396.15,196.00 395.00,197.00 393.84,198.00 392.66,199.00 391.47,200.00 390.27,201.00 389.05,202.00 387.82,203.00 386.58,204.00 385.32,205.00 384.04,206.00 382.76,207.00 381.45,208.00 380.14,209.00 378.80,210.00 377.45,211.00 376.09,212.00 374.71,213.00 373.31,214.00 371.89,215.00 370.46,216.00 369.01,217.00 367.55,218.00 366.06,219.00 364.56,220.00 363.04,221.00 361.50,222.00 359.94,223.00 358.36,224.00 356.76,225.00 355.14,226.00 353.50,227.00 351.84,228.00 350.15,229.00 348.45,230.00 346.72,231.00 344.97,232.00 343.20,233.00 341.40,234.00 339.58,235.00 337.73,236.00 335.86,237.00 333.96,238.00 332.05,239.00 330.12,240.00 328.16,241.00 326.18,242.00 324.17,243.00 323.56,243.30 300.00,243.30" fill="#e3f3f8"/>
<polygon points="300.00,13.00 516.92,13.00 516.48,14.00 516.05,15.00 515.59,16.00 515.10,17.00 514.62,18.00 514.13,19.00 513.65,20.00 513.16,21.00 512.66,22.00 512.17,23.00 511.67,24.00 511.18,25.00 510.68,26.00 510.18,27.00 509.67,28.00 509.17,29.00 508.66,30.00 508.15,31.00 507.64,32.00 507.12,33.00 506.61,34.00 506.09,35.00 505.57,36.00 505.04,37.00 504.52,38.00 503.99,39.00 503.46,40.00 502.93,41.00 502.40,42.00 501.86,43.00 501.32,44.00 500.78,45.00 500.24,46.00 499.69,47.00 499.14,48.00 498.59,49.00 498.04,50.00 497.48,51.00 496.92,52.00 496.36,53.00 495.79,54.00 495.23,55.00 494.66,56.00 494.08,57.00 493.51,58.00 492.93,59.00 492.35,60.00 491.76,61.00 491.18,62.00 490.59,63.00 489.99,64.00 489.40,65.00 488.80,66.00 488.20,67.00 487.59,68.00 486.98,69.00 486.37,70.00 485.76,71.00 485.14,72.00 484.52,73.00 483.89,74.00 483.26,75.00 482.63,76.00 482.00,77.00 481.36,78.00 480.72,79.00 480.07,80.00 479.42,81.00 478.77,82.00 478.11,83.00 477.45,84.00 476.79,85.00 476.12,86.00 475.45,87.00 474.77,88.00 474.09,89.00 473.41,90.00 472.72,91.00 472.03,92.00 471.33,93.00 470.63,94.00 469.93,95.00 469.22,96.00 468.51,97.00 467.79,98.00 467.07,99.00 466.34,100.00 465.61,101.00 464.88,102.00 464.14,103.00 463.39,104.00 462.64,105.00 461.89,106.00 461.13,107.00 460.36,108.00 459.59,109.00 458.82,110.00 458.04,111.00 457.25,112.00 456.46,113.00 455.67,114.00 454.87,115.00 454.06,116.00 453.25,117.00 452.43,118.00 451.61,119.00 450.78,120.00 449.94,121.00 449.10,122.00 448.25,123.00 447.40,124.00 446.54,125.00 445.68,126.00 444.81,127.00 443.93,128.00 443.04,129.00 442.15,130.00 441.26,131.00 440.35,132.00 439.44,133.00 438.52,134.00 437.60,135.00 436.67,136.00 435.73,137.00 434.78,138.00 433.83,139.00 432.87,140.00 431.90,141.00 430.93,142.00 429.94,143.00 428.95,144.00 427.95,145.00 426.94,146.00 425.93,147.00 424.91,148.00 423.87,149.00 422.83,150.00 421.78,151.00 420.73,152.00 419.66,153.00 418.58,154.00 417.50,155.00 416.41,156.00 415.30,157.00 414.19,158.00 413.07,159.00 411.94,160.00 410.75,161.00 409.56,162.00 408.36,163.00 407.14,164.00 405.92,165.00 404.68,166.00 403.43,167.00 402.17,168.00 400.90,169.00 399.62,170.00 398.33,171.00 397.02,172.00 395.70,173.00 394.37,174.00 393.02,175.00 391.67,176.00 390.30,177.00 388.91,178.00 387.52,179.00 386.11,180.00 384.68,181.00 383.24,182.00 381.79,183.00 380.32,184.00 378.84,185.00 377.35,186.00 375.83,187.00 374.31,188.00 372.76,189.00 371.21,190.00 369.63,191.00 368.04,192.00 366.43,193.00 364.81,194.00 363.17,195.00 361.51,196.00 359.84,197.00 358.14,198.00 356.43,199.00 354.70,200.00 352.95,201.00 351.18,202.00 349.39,203.00 347.59,204.00 345.76,205.00 343.91,206.00 342.04,207.00 340.15,208.00 338.24,209.00 336.31,210.00 334.35,211.00 332.38,212.00 330.38,213.00 328.35,214.00 326.30,215.00 324.39,216.00 322.47,217.00 320.53,218.00 318.56,219.00 316.57,220.00 314.56,221.00 312.52,222.00 310.46,223.00 308.37,224.00 306.26,225.00 304.12,226.00 301.95,227.00 299.75,228.00 297.53,229.00 295.28,230.00 293.00,231.00 290.68,232.00 288.34,233.00 285.97,234.00 283.57,235.00 281.13,236.00 278.66,237.00 276.16,238.00 273.62,239.00 271.05,240.00 268.44,241.00 265.80,242.00 263.12,243.00 262.31,243.30 300.00,243.30" fill="#fafcfd"/>
<polygon points="300.00,13.00 499.43,13.00 499.03,14.00 498.63,15.00 498.28,16.00 497.95,17.00 497.62,18.00 497.29,19.00 496.95,20.00 496.61,21.00 496.27,22.00 495.93,23.00 495.58,24.00 495.23,25.00 494.87,26.00 494.51,27.00 494.15,28.00 493.79,29.00 493.42,30.00 493.05,31.00 492.68,32.00 492.30,33.00 491.92,34.00 491.54,35.00 491.15,36.00 490.77,37.00 490.37,38.00 489.98,39.00 489.58,40.00 489.17,41.00 488.77,42.00 488.36,43.00 487.94,44.00 487.53,45.00 487.11,46.00 486.68,47.00 486.25,48.00 485.82,49.00 485.39,50.00 484.95,51.00 484.51,52.00 484.06,53.00 483.61,54.00 483.16,55.00 482.70,56.00 482.24,57.00 481.77,58.00 481.31,59.00 480.83,60.00 480.36,61.00 479.88,62.00 479.39,63.00 478.90,64.00 478.41,65.00 477.91,66.00 477.41,67.00 476.91,68.00 476.40,69.00 475.89,70.00 475.37,71.00 474.85,72.00 474.32,73.00 473.79,74.00 473.26,75.00 472.72,76.00 472.17,77.00 471.63,78.00 471.07,79.00 470.52,80.00 469.95,81.00 469.39,82.00 468.82,83.00 468.24,84.00 467.66,85.00 467.08,86.00 466.49,87.00 465.89,88.00 465.29,89.00 464.69,90.00 464.08,91.00 463.46,92.00 462.84,93.00 462.22,94.00 461.59,95.00 460.95,96.00 460.31,97.00 459.66,98.00 459.01,99.00 458.35,100.00 457.69,101.00 457.02,102.00 456.35,103.00 455.67,104.00 454.99,105.00 454.30,106.00 453.60,107.00 452.90,108.00 452.19,109.00 451.48,110.00 450.76,111.00 450.03,112.00 449.30,113.00 448.56,114.00 447.82,115.00 447.07,116.00 446.31,117.00 445.55,118.00 444.78,119.00 444.00,120.00 443.22,121.00 442.43,122.00 441.63,123.00 440.83,124.00 440.02,125.00 439.20,126.00 438.38,127.00 437.55,128.00 436.71,129.00 435.86,130.00 435.01,131.00 434.15,132.00 433.28,133.00 432.41,134.00 431.52,135.00 430.63,136.00 429.73,137.00 428.83,138.00 427.91,139.00 426.99,140.00 426.06,141.00 425.12,142.00 424.17,143.00 423.22,144.00 422.26,145.00 421.28,146.00 420.30,147.00 419.31,148.00 418.31,149.00 417.30,150.00 416.29,151.00 415.26,152.00 414.22,153.00 413.18,154.00 412.12,155.00 411.06,156.00 409.98,157.00 408.90,158.00 407.80,159.00 406.70,160.00 405.58,161.00 404.46,162.00 403.32,163.00 402.18,164.00 401.02,165.00 399.85,166.00 398.67,167.00 397.48,168.00 396.28,169.00 395.06,170.00 393.84,171.00 392.60,172.00 391.35,173.00 390.09,174.00 388.81,175.00 387.53,176.00 386.23,177.00 384.92,178.00 383.59,179.00 382.25,180.00 380.90,181.00 379.54,182.00 378.16,183.00 376.76,184.00 375.36,185.00 373.93,186.00 372.50,187.00 371.05,188.00 369.58,189.00 368.10,190.00 366.60,191.00 365.09,192.00 363.56,193.00 362.02,194.00 360.46,195.00 358.88,196.00 357.29,197.00 355.68,198.00 354.05,199.00 352.40,200.00 350.74,201.00 349.06,202.00 347.35,203.00 345.63,204.00 343.90,205.00 342.14,206.00 340.36,207.00 338.56,208.00 336.74,209.00 334.94,210.00 333.15,211.00 331.34,212.00 329.51,213.00 327.66,214.00 325.78,215.00 323.89,216.00 321.97,217.00 320.03,218.00 318.06,219.00 316.07,220.00 314.06,221.00 312.02,222.00 309.96,223.00 307.87,224.00 305.76,225.00 303.62,226.00 301.45,227.00 299.25,228.00 297.03,229.00 294.78,230.00 292.50,231.00 290.18,232.00 287.84,233.00 285.47,234.00 283.07,235.00 280.63,236.00 278.16,237.00 275.66,238.00 273.12,239.00 270.55,240.00 267.94,241.00 265.30,242.00 262.62,243.00 261.81,243.30 300.00,243.30" fill="#edecf7"/>
<polygon points="300.00,13.00 471.97,13.00 471.56,14.00 471.15,15.00 470.74,16.00 470.32,17.00 469.90,18.00 469.48,19.00 469.06,20.00 468.64,21.00 468.21,22.00 467.79,23.00 467.36,24.00 466.93,25.00 466.49,26.00 466.05,27.00 465.62,28.00 465.17,29.00 464.73,30.00 464.28,31.00 463.83,32.00 463.38,33.00 462.93,34.00 462.47,35.00 462.01,36.00 461.55,37.00 461.08,38.00 460.61,39.00 460.14,40.00 459.67,41.00 459.19,42.00 458.71,43.00 458.23,44.00 457.75,45.00 457.26,46.00 456.77,47.00 456.28,48.00 455.78,49.00 455.28,50.00 454.78,51.00 454.27,52.00 453.76,53.00 453.25,54.00 452.73,55.00 452.22,56.00 451.69,57.00 451.17,58.00 450.64,59.00 450.11,60.00 449.57,61.00 449.04,62.00 448.49,63.00 447.95,64.00 447.40,65.00 446.85,66.00 446.29,67.00 445.74,68.00 445.17,69.00 444.61,70.00 444.04,71.00 443.46,72.00 442.89,73.00 442.31,74.00 441.72,75.00 441.13,76.00 440.54,77.00 439.94,78.00 439.34,79.00 438.74,80.00 438.13,81.00 437.52,82.00 436.90,83.00 436.28,84.00 435.66,85.00 435.03,86.00 434.39,87.00 433.76,88.00 433.11,89.00 432.47,90.00 431.82,91.00 431.16,92.00 430.50,93.00 429.84,94.00 429.17,95.00 428.50,96.00 427.82,97.00 427.13,98.00 426.45,99.00 425.75,100.00 425.06,101.00 424.35,102.00 423.65,103.00 422.93,104.00 422.21,105.00 421.49,106.00 420.76,107.00 420.03,108.00 419.29,109.00 418.55,110.00 417.80,111.00 417.04,112.00 416.28,113.00 415.51,114.00 414.74,115.00 413.96,116.00 413.18,117.00 412.39,118.00 411.59,119.00 410.79,120.00 409.99,121.00 409.17,122.00 408.35,123.00 407.52,124.00 406.69,125.00 405.85,126.00 405.01,127.00 404.15,128.00 403.29,129.00 402.43,130.00 401.56,131.00 400.68,132.00 399.79,133.00 398.89,134.00 397.99,135.00 397.09,136.00 396.17,137.00 395.25,138.00 394.32,139.00 393.38,140.00 392.43,141.00 391.48,142.00 390.52,143.00 389.55,144.00 388.57,145.00 387.58,146.00 386.59,147.00 385.59,148.00 384.58,149.00 383.56,150.00 382.53,151.00 381.49,152.00 380.44,153.00 379.39,154.00 378.32,155.00 377.25,156.00 376.17,157.00 375.07,158.00 373.97,159.00 372.86,160.00 371.74,161.00 370.60,162.00 369.46,163.00 368.31,164.00 367.15,165.00 365.97,166.00 364.79,167.00 363.59,168.00 362.38,169.00 361.17,170.00 359.94,171.00 358.70,172.00 357.44,173.00 356.18,174.00 354.90,175.00 353.61,176.00 352.31,177.00 351.00,178.00 349.67,179.00 348.33,180.00 346.98,181.00 345.61,182.00 344.23,183.00 342.84,184.00 341.43,185.00 340.01,186.00 338.58,187.00 337.13,188.00 335.66,189.00 334.19,190.00 332.70,191.00 331.19,192.00 329.67,193.00 328.13,194.00 326.57,195.00 325.00,196.00 323.41,197.00 321.81,198.00 320.19,199.00 318.55,200.00 316.89,201.00 315.22,202.00 313.52,203.00 311.81,204.00 310.08,205.00 308.33,206.00 306.56,207.00 304.77,208.00 302.96,209.00 301.13,210.00 299.27,211.00 297.40,212.00 295.50,213.00 293.59,214.00 291.65,215.00 289.68,216.00 287.70,217.00 285.69,218.00 283.65,219.00 281.60,220.00 279.51,221.00 277.40,222.00 275.27,223.00 273.10,224.00 270.92,225.00 268.70,226.00 266.45,227.00 264.18,228.00 261.88,229.00 259.55,230.00 257.19,231.00 254.79,232.00 252.37,233.00 249.91,234.00 247.42,235.00 244.90,236.00 242.35,237.00 239.76,238.00 237.13,239.00 234.47,240.00 231.77,241.00 229.03,242.00 226.25,243.00 225.41,243.30 300.00,243.30" fill="#d8d8ee"/>
<polygon points="300.00,13.00 455.96,13.00 455.54,14.00 455.11,15.00 454.68,16.00 454.25,17.00 453.82,18.00 453.39,19.00 452.95,20.00 452.58,21.00 452.20,22.00 451.82,23.00 451.44,24.00 451.05,25.00 450.66,26.00 450.27,27.00 449.87,28.00 449.47,29.00 449.07,30.00 448.66,31.00 448.25,32.00 447.83,33.00 447.42,34.00 447.00,35.00 446.57,36.00 446.14,37.00 445.71,38.00 445.27,39.00 444.84,40.00 444.39,41.00 443.95,42.00 443.50,43.00 443.04,44.00 442.58,45.00 442.12,46.00 441.66,47.00 441.19,48.00 440.71,49.00 440.24,50.00 439.76,51.00 439.27,52.00 438.78,53.00 438.29,54.00 437.79,55.00 437.29,56.00 436.78,57.00 436.27,58.00 435.76,59.00 435.24,60.00 434.72,61.00 434.19,62.00 433.66,63.00 433.13,64.00 432.59,65.00 432.04,66.00 431.50,67.00 430.94,68.00 430.39,69.00 429.82,70.00 429.26,71.00 428.69,72.00 428.11,73.00 427.53,74.00 426.95,75.00 426.36,76.00 425.76,77.00 425.16,78.00 424.56,79.00 423.95,80.00 423.33,81.00 422.71,82.00 422.09,83.00 421.46,84.00 420.83,85.00 420.19,86.00 419.54,87.00 418.89,88.00 418.24,89.00 417.58,90.00 416.91,91.00 416.24,92.00 415.56,93.00 414.88,94.00 414.19,95.00 413.50,96.00 412.80,97.00 412.09,98.00 411.38,99.00 410.67,100.00 409.94,101.00 409.22,102.00 408.48,103.00 407.74,104.00 406.99,105.00 406.24,106.00 405.48,107.00 404.72,108.00 403.95,109.00 403.17,110.00 402.38,111.00 401.59,112.00 400.79,113.00 399.99,114.00 399.18,115.00 398.36,116.00 397.54,117.00 396.71,118.00 395.87,119.00 395.02,120.00 394.17,121.00 393.31,122.00 392.45,123.00 391.57,124.00 390.69,125.00 389.80,126.00 388.90,127.00 388.00,128.00 387.09,129.00 386.17,130.00 385.24,131.00 384.31,132.00 383.36,133.00 382.41,134.00 381.45,135.00 380.48,136.00 379.51,137.00 378.52,138.00 377.53,139.00 376.53,140.00 375.51,141.00 374.49,142.00 373.47,143.00 372.43,144.00 371.38,145.00 370.33,146.00 369.26,147.00 368.18,148.00 367.10,149.00 366.01,150.00 364.90,151.00 363.79,152.00 362.66,153.00 361.53,154.00 360.38,155.00 359.23,156.00 358.06,157.00 356.89,158.00 355.70,159.00 354.50,160.00 353.29,161.00 352.07,162.00 350.84,163.00 349.60,164.00 348.34,165.00 347.08,166.00 345.80,167.00 344.51,168.00 343.21,169.00 341.89,170.00 340.56,171.00 339.22,172.00 337.87,173.00 336.50,174.00 335.12,175.00 333.73,176.00 332.32,177.00 330.97,178.00 329.60,179.00 328.22,180.00 326.83,181.00 325.43,182.00 324.00,183.00 322.57,184.00 321.12,185.00 319.66,186.00 318.18,187.00 316.69,188.00 315.18,189.00 313.65,190.00 312.11,191.00 310.56,192.00 308.99,193.00 307.40,194.00 305.79,195.00 304.17,196.00 302.53,197.00 300.88,198.00 299.20,199.00 297.51,200.00 295.80,201.00 294.07,202.00 292.32,203.00 290.55,204.00 288.77,205.00 286.96,206.00 285.13,207.00 283.28,208.00 281.42,209.00 279.52,210.00 277.61,211.00 275.68,212.00 273.72,213.00 271.74,214.00 269.74,215.00 267.71,216.00 265.66,217.00 263.59,218.00 261.49,219.00 259.36,220.00 257.21,221.00 255.03,222.00 252.83,223.00 250.60,224.00 248.34,225.00 246.05,226.00 243.73,227.00 241.39,228.00 239.01,229.00 236.60,230.00 234.17,231.00 231.70,232.00 229.19,233.00 226.66,234.00 224.09,235.00 221.49,236.00 218.85,237.00 216.17,238.00 213.46,239.00 210.71,240.00 207.93,241.00 205.10,242.00 202.24,243.00 201.37,243.30 300.00,243.30" fill="#b8b8e0"/>
<polygon points="300.00,13.00 455.03,13.00 454.47,14.00 453.90,15.00 453.33,16.00 452.76,17.00 452.18,18.00 451.60,19.00 451.02,20.00 450.49,21.00 449.96,22.00 449.42,23.00 448.88,24.00 448.33,25.00 447.78,26.00 447.23,27.00 446.67,28.00 446.11,29.00 445.54,30.00 444.97,31.00 444.39,32.00 443.81,33.00 443.22,34.00 442.63,35.00 442.03,36.00 441.43,37.00 440.83,38.00 440.22,39.00 439.60,40.00 438.98,41.00 438.35,42.00 437.72,43.00 437.09,44.00 436.45,45.00 435.80,46.00 435.15,47.00 434.50,48.00 433.84,49.00 433.17,50.00 432.50,51.00 431.82,52.00 431.14,53.00 430.45,54.00 429.76,55.00 429.06,56.00 428.36,57.00 427.65,58.00 426.94,59.00 426.21,60.00 425.49,61.00 424.76,62.00 424.02,63.00 423.28,64.00 422.53,65.00 421.77,66.00 421.01,67.00 420.24,68.00 419.47,69.00 418.69,70.00 417.91,71.00 417.12,72.00 416.32,73.00 415.52,74.00 414.71,75.00 413.89,76.00 413.07,77.00 412.24,78.00 411.40,79.00 410.56,80.00 409.71,81.00 408.86,82.00 407.99,83.00 407.13,84.00 406.25,85.00 405.37,86.00 404.48,87.00 403.58,88.00 402.68,89.00 401.77,90.00 400.85,91.00 399.92,92.00 398.99,93.00 398.05,94.00 397.10,95.00 396.15,96.00 395.19,97.00 394.22,98.00 393.24,99.00 392.26,100.00 391.26,101.00 390.26,102.00 389.25,103.00 388.23,104.00 387.21,105.00 386.18,106.00 385.13,107.00 384.08,108.00 383.03,109.00 381.96,110.00 380.88,111.00 379.80,112.00 378.70,113.00 377.60,114.00 376.49,115.00 375.37,116.00 374.24,117.00 373.10,118.00 371.96,119.00 370.56,120.00 368.83,121.00 366.99,122.00 365.20,123.00 363.61,124.00 362.28,125.00 361.25,126.00 360.37,127.00 359.48,128.00 358.58,129.00 357.68,130.00 356.77,131.00 355.86,132.00 354.94,133.00 354.01,134.00 353.07,135.00 352.13,136.00 351.18,137.00 350.23,138.00 349.26,139.00 348.29,140.00 347.31,141.00 346.33,142.00 345.34,143.00 344.33,144.00 343.33,145.00 342.31,146.00 341.28,147.00 340.25,148.00 339.21,149.00 338.16,150.00 337.10,151.00 336.04,152.00 334.96,153.00 333.87,154.00 332.78,155.00 331.61,156.00 330.43,157.00 329.25,158.00 328.05,159.00 326.84,160.00 325.62,161.00 324.38,162.00 323.14,163.00 321.89,164.00 320.62,165.00 319.34,166.00 318.06,167.00 316.76,168.00 315.44,169.00 314.12,170.00 312.78,171.00 311.43,172.00 310.07,173.00 308.69,174.00 307.31,175.00 305.90,176.00 304.49,177.00 303.06,178.00 301.62,179.00 300.16,180.00 298.69,181.00 297.21,182.00 295.71,183.00 294.19,184.00 292.66,185.00 291.11,186.00 289.55,187.00 287.98,188.00 286.38,189.00 284.77,190.00 283.15,191.00 281.51,192.00 279.85,193.00 278.17,194.00 276.48,195.00 274.76,196.00 273.03,197.00 271.28,198.00 269.51,199.00 267.73,200.00 265.92,201.00 264.09,202.00 262.25,203.00 260.38,204.00 258.49,205.00 256.59,206.00 254.66,207.00 252.71,208.00 250.73,209.00 248.74,210.00 246.72,211.00 244.67,212.00 242.61,213.00 240.52,214.00 238.40,215.00 236.26,216.00 234.10,217.00 231.91,218.00 229.69,219.00 227.44,220.00 225.17,221.00 222.87,222.00 220.55,223.00 218.19,224.00 215.80,225.00 213.39,226.00 210.94,227.00 208.46,228.00 205.95,229.00 203.41,230.00 200.84,231.00 198.23,232.00 195.59,233.00 192.91,234.00 190.20,235.00 187.45,236.00 184.66,237.00 181.84,238.00 178.97,239.00 176.07,240.00 173.13,241.00 170.15,242.00 167.12,243.00 166.20,243.30 300.00,243.30" fill="#8180c4"/>
<polygon points="300.00,13.00 434.62,13.00 434.17,14.00 433.72,15.00 433.27,16.00 432.82,17.00 432.36,18.00 431.90,19.00 431.44,20.00 430.92,21.00 430.39,22.00 429.87,23.00 429.34,24.00 428.81,25.00 428.28,26.00 427.75,27.00 427.21,28.00 426.67,29.00 426.14,30.00 425.60,31.00 425.05,32.00 424.51,33.00 423.96,34.00 423.42,35.00 422.87,36.00 422.31,37.00 421.76,38.00 421.21,39.00 420.65,40.00 420.09,41.00 419.53,42.00 418.96,43.00 418.40,44.00 417.83,45.00 417.26,46.00 416.68,47.00 416.11,48.00 415.53,49.00 414.95,50.00 414.37,51.00 413.78,52.00 413.20,53.00 412.61,54.00 412.02,55.00 411.42,56.00 410.83,57.00 410.23,58.00 409.62,59.00 409.02,60.00 408.41,61.00 407.80,62.00 407.19,63.00 406.57,64.00 405.96,65.00 405.34,66.00 404.71,67.00 404.08,68.00 403.45,69.00 402.82,70.00 402.19,71.00 401.55,72.00 400.91,73.00 400.26,74.00 399.61,75.00 398.96,76.00 398.31,77.00 397.65,78.00 396.99,79.00 396.32,80.00 395.65,81.00 394.98,82.00 394.31,83.00 393.63,84.00 392.95,85.00 392.26,86.00 391.57,87.00 390.88,88.00 390.18,89.00 389.48,90.00 388.78,91.00 388.07,92.00 387.36,93.00 386.64,94.00 385.92,95.00 385.19,96.00 384.46,97.00 383.73,98.00 382.99,99.00 382.25,100.00 381.51,101.00 380.76,102.00 380.00,103.00 379.24,104.00 378.48,105.00 377.71,106.00 376.93,107.00 376.16,108.00 375.37,109.00 374.58,110.00 373.79,111.00 372.99,112.00 372.19,113.00 371.38,114.00 370.57,115.00 369.75,116.00 368.92,117.00 368.09,118.00 367.26,119.00 366.42,120.00 365.57,121.00 364.72,122.00 363.86,123.00 362.99,124.00 362.12,125.00 361.25,126.00 360.37,127.00 359.48,128.00 358.58,129.00 357.68,130.00 356.77,131.00 355.86,132.00 354.94,133.00 354.01,134.00 353.07,135.00 352.13,136.00 351.18,137.00 350.23,138.00 349.26,139.00 348.29,140.00 347.31,141.00 346.33,142.00 345.34,143.00 344.33,144.00 343.33,145.00 342.31,146.00 341.28,147.00 340.25,148.00 339.21,149.00 338.16,150.00 337.10,151.00 336.04,152.00 334.96,153.00 333.87,154.00 332.78,155.00 331.61,156.00 330.43,157.00 329.25,158.00 328.05,159.00 326.84,160.00 325.62,161.00 324.38,162.00 323.14,163.00 321.89,164.00 320.62,165.00 319.34,166.00 318.06,167.00 316.76,168.00 315.44,169.00 314.12,170.00 312.78,171.00 311.43,172.00 310.07,173.00 308.69,174.00 307.31,175.00 305.90,176.00 304.49,177.00 303.06,178.00 301.62,179.00 300.16,180.00 298.69,181.00 297.21,182.00 295.71,183.00 294.19,184.00 292.66,185.00 291.11,186.00 289.55,187.00 287.98,188.00 286.38,189.00 284.77,190.00 283.15,191.00 281.51,192.00 279.85,193.00 278.17,194.00 276.48,195.00 274.76,196.00 273.03,197.00 271.28,198.00 269.51,199.00 267.73,200.00 265.92,201.00 264.09,202.00 262.25,203.00 260.38,204.00 258.49,205.00 256.59,206.00 254.66,207.00 252.71,208.00 250.73,209.00 248.74,210.00 246.72,211.00 244.67,212.00 242.61,213.00 240.52,214.00 238.40,215.00 236.26,216.00 234.10,217.00 231.91,218.00 229.69,219.00 227.44,220.00 225.17,221.00 222.87,222.00 220.55,223.00 218.19,224.00 215.80,225.00 213.39,226.00 210.94,227.00 208.46,228.00 205.95,229.00 203.41,230.00 200.84,231.00 198.23,232.00 195.59,233.00 192.91,234.00 190.20,235.00 187.45,236.00 184.66,237.00 181.84,238.00 178.97,239.00 176.07,240.00 173.13,241.00 170.15,242.00 167.12,243.00 166.20,243.30 300.00,243.30" fill="#5b2ca0"/>
<polygon points="300.00,13.00 421.55,13.00 421.14,14.00 420.74,15.00 420.32,16.00 419.91,17.00 419.50,18.00 419.08,19.00 418.66,20.00 418.30,21.00 417.93,22.00 417.56,23.00 417.19,24.00 416.82,25.00 416.44,26.00 416.05,27.00 415.67,28.00 415.28,29.00 414.89,30.00 414.49,31.00 414.09,32.00 413.69,33.00 413.28,34.00 412.87,35.00 412.46,36.00 412.04,37.00 411.62,38.00 411.20,39.00 410.77,40.00 410.34,41.00 409.90,42.00 409.46,43.00 409.02,44.00 408.57,45.00 408.12,46.00 407.67,47.00 407.21,48.00 406.75,49.00 406.28,50.00 405.81,51.00 405.34,52.00 404.86,53.00 404.38,54.00 403.89,55.00 403.40,56.00 402.91,57.00 402.41,58.00 401.91,59.00 401.40,60.00 400.89,61.00 400.38,62.00 399.86,63.00 399.34,64.00 398.81,65.00 398.28,66.00 397.74,67.00 397.20,68.00 396.65,69.00 396.10,70.00 395.55,71.00 394.99,72.00 394.43,73.00 393.86,74.00 393.28,75.00 392.71,76.00 392.12,77.00 391.54,78.00 390.94,79.00 390.35,80.00 389.75,81.00 389.14,82.00 388.53,83.00 387.91,84.00 387.29,85.00 386.66,86.00 386.03,87.00 385.39,88.00 384.75,89.00 384.10,90.00 383.45,91.00 382.79,92.00 382.13,93.00 381.46,94.00 380.78,95.00 380.10,96.00 379.42,97.00 378.73,98.00 378.03,99.00 377.33,100.00 376.62,101.00 375.90,102.00 375.18,103.00 374.46,104.00 373.72,105.00 372.98,106.00 372.24,107.00 371.49,108.00 370.73,109.00 369.97,110.00 369.20,111.00 368.42,112.00 367.64,113.00 366.85,114.00 366.06,115.00 365.26,116.00 364.45,117.00 363.63,118.00 362.81,119.00 361.98,120.00 361.14,121.00 360.30,122.00 359.45,123.00 358.59,124.00 357.73,125.00 356.85,126.00 355.97,127.00 355.09,128.00 354.19,129.00 353.29,130.00 352.38,131.00 351.46,132.00 350.54,133.00 349.60,134.00 348.66,135.00 347.71,136.00 346.76,137.00 345.79,138.00 344.81,139.00 343.83,140.00 342.84,141.00 341.84,142.00 340.83,143.00 339.81,144.00 338.79,145.00 337.75,146.00 336.71,147.00 335.65,148.00 334.59,149.00 333.52,150.00 332.50,151.00 331.48,152.00 330.44,153.00 329.39,154.00 328.34,155.00 327.28,156.00 326.20,157.00 325.12,158.00 324.03,159.00 322.93,160.00 321.82,161.00 320.69,162.00 319.56,163.00 318.42,164.00 317.27,165.00 316.11,166.00 314.93,167.00 313.75,168.00 312.55,169.00 311.35,170.00 310.13,171.00 308.90,172.00 307.66,173.00 306.41,174.00 305.14,175.00 303.87,176.00 302.58,177.00 301.28,178.00 299.97,179.00 298.64,180.00 297.30,181.00 295.95,182.00 294.58,183.00 293.20,184.00 291.81,185.00 290.40,186.00 288.98,187.00 287.55,188.00 286.10,189.00 284.63,190.00 283.15,191.00 281.66,192.00 280.14,193.00 278.62,194.00 277.07,195.00 275.52,196.00 273.94,197.00 272.35,198.00 270.74,199.00 269.11,200.00 267.47,201.00 265.80,202.00 264.12,203.00 262.42,204.00 260.70,205.00 258.97,206.00 257.21,207.00 255.43,208.00 253.64,209.00 251.82,210.00 249.98,211.00 248.12,212.00 246.24,213.00 244.34,214.00 242.41,215.00 240.46,216.00 238.49,217.00 236.50,218.00 234.48,219.00 232.43,220.00 230.37,221.00 228.27,222.00 226.15,223.00 224.01,224.00 221.83,225.00 219.64,226.00 217.41,227.00 215.15,228.00 212.87,229.00 210.55,230.00 208.21,231.00 205.83,232.00 203.43,233.00 200.99,234.00 198.52,235.00 196.02,236.00 193.48,237.00 190.91,238.00 188.30,239.00 185.66,240.00 182.98,241.00 180.26,242.00 177.51,243.00 176.68,243.30 300.00,243.30" fill="#42037f"/>
<polygon points="300,10 361.6,10 360.3,15 332.3,50.5 300,60" fill="#2d0a5e"/>
<path d="M421.55,13.00 L421.14,14.00 L420.74,15.00 L420.32,16.00 L419.91,17.00 L419.50,18.00 L419.08,19.00 L418.66,20.00 L418.30,21.00 L417.93,22.00 L417.56,23.00 L417.19,24.00 L416.82,25.00 L416.44,26.00 L416.05,27.00 L415.67,28.00 L415.28,29.00 L414.89,30.00 L414.49,31.00 L414.09,32.00 L413.69,33.00 L413.28,34.00 L412.87,35.00 L412.46,36.00 L412.04,37.00 L411.62,38.00 L411.20,39.00 L410.77,40.00 L410.34,41.00 L409.90,42.00 L409.46,43.00 L409.02,44.00 L408.57,45.00 L408.12,46.00 L407.67,47.00 L407.21,48.00 L406.75,49.00 L406.28,50.00 L405.81,51.00 L405.34,52.00 L404.86,53.00 L404.38,54.00 L403.89,55.00 L403.40,56.00 L402.91,57.00 L402.41,58.00 L401.91,59.00 L401.40,60.00 L400.89,61.00 L400.38,62.00 L399.86,63.00 L399.34,64.00 L398.81,65.00 L398.28,66.00 L397.74,67.00 L397.20,68.00 L396.65,69.00 L396.10,70.00 L395.55,71.00 L394.99,72.00 L394.43,73.00 L393.86,74.00 L393.28,75.00 L392.71,76.00 L392.12,77.00 L391.54,78.00 L390.94,79.00 L390.35,80.00 L389.75,81.00 L389.14,82.00 L388.53,83.00 L387.91,84.00 L387.29,85.00 L386.66,86.00 L386.03,87.00 L385.39,88.00 L384.75,89.00 L384.10,90.00 L383.45,91.00 L382.79,92.00 L382.13,93.00 L381.46,94.00 L380.78,95.00 L380.10,96.00 L379.42,97.00 L378.73,98.00 L378.03,99.00 L377.33,100.00 L376.62,101.00 L375.90,102.00 L375.18,103.00 L374.46,104.00 L373.72,105.00 L372.98,106.00 L372.24,107.00 L371.49,108.00 L370.73,109.00 L369.97,110.00 L369.20,111.00 L368.42,112.00 L367.64,113.00 L366.85,114.00 L366.06,115.00 L365.26,116.00 L364.45,117.00 L363.63,118.00 L362.81,119.00 L361.98,120.00 L361.14,121.00 L360.30,122.00 L359.45,123.00 L358.59,124.00 L357.73,125.00 L356.85,126.00 L355.97,127.00 L355.09,128.00 L354.19,129.00 L353.29,130.00 L352.38,131.00 L351.46,132.00 L350.54,133.00 L349.60,134.00 L348.66,135.00 L347.71,136.00 L346.76,137.00 L345.79,138.00 L344.81,139.00 L343.83,140.00 L342.84,141.00 L341.84,142.00 L340.83,143.00 L339.81,144.00 L338.79,145.00 L337.75,146.00 L336.71,147.00 L335.65,148.00 L334.59,149.00 L333.52,150.00 L332.50,151.00 L331.48,152.00 L330.44,153.00 L329.39,154.00 L328.34,155.00 L327.28,156.00 L326.20,157.00 L325.12,158.00 L324.03,159.00 L322.93,160.00 L321.82,161.00 L320.69,162.00 L319.56,163.00 L318.42,164.00 L317.27,165.00 L316.11,166.00 L314.93,167.00 L313.75,168.00 L312.55,169.00 L311.35,170.00 L310.13,171.00 L308.90,172.00 L307.66,173.00 L306.41,174.00 L305.14,175.00 L303.87,176.00 L302.58,177.00 L301.28,178.00 L299.97,179.00 L298.64,180.00 L297.30,181.00 L295.95,182.00 L294.58,183.00 L293.20,184.00 L291.81,185.00 L290.40,186.00 L288.98,187.00 L287.55,188.00 L286.10,189.00 L284.63,190.00 L283.15,191.00 L281.66,192.00 L280.14,193.00 L278.62,194.00 L277.07,195.00 L275.52,196.00 L273.94,197.00 L272.35,198.00 L270.74,199.00 L269.11,200.00 L267.47,201.00 L265.80,202.00 L264.12,203.00 L262.42,204.00 L260.70,205.00 L258.97,206.00 L257.21,207.00 L255.43,208.00 L253.64,209.00 L251.82,210.00 L249.98,211.00 L248.12,212.00 L246.24,213.00 L244.34,214.00 L242.41,215.00 L240.46,216.00 L238.49,217.00 L236.50,218.00 L234.48,219.00 L232.43,220.00 L230.37,221.00 L228.27,222.00 L226.15,223.00 L224.01,224.00 L221.83,225.00 L219.64,226.00 L217.41,227.00 L215.15,228.00 L212.87,229.00 L210.55,230.00 L208.21,231.00 L205.83,232.00 L203.43,233.00 L200.99,234.00 L198.52,235.00 L196.02,236.00 L193.48,237.00 L190.91,238.00 L188.30,239.00 L185.66,240.00 L182.98,241.00 L180.26,242.00 L177.51,243.00 L176.68,243.30" fill="none" stroke="#111" stroke-width="0.8" />
<path d="M455.96,13.00 L455.54,14.00 L455.11,15.00 L454.68,16.00 L454.25,17.00 L453.82,18.00 L453.39,19.00 L452.95,20.00 L452.58,21.00 L452.20,22.00 L451.82,23.00 L451.44,24.00 L451.05,25.00 L450.66,26.00 L450.27,27.00 L449.87,28.00 L449.47,29.00 L449.07,30.00 L448.66,31.00 L448.25,32.00 L447.83,33.00 L447.42,34.00 L447.00,35.00 L446.57,36.00 L446.14,37.00 L445.71,38.00 L445.27,39.00 L444.84,40.00 L444.39,41.00 L443.95,42.00 L443.50,43.00 L443.04,44.00 L442.58,45.00 L442.12,46.00 L441.66,47.00 L441.19,48.00 L440.71,49.00 L440.24,50.00 L439.76,51.00 L439.27,52.00 L438.78,53.00 L438.29,54.00 L437.79,55.00 L437.29,56.00 L436.78,57.00 L436.27,58.00 L435.76,59.00 L435.24,60.00 L434.72,61.00 L434.19,62.00 L433.66,63.00 L433.13,64.00 L432.59,65.00 L432.04,66.00 L431.50,67.00 L430.94,68.00 L430.39,69.00 L429.82,70.00 L429.26,71.00 L428.69,72.00 L428.11,73.00 L427.53,74.00 L426.95,75.00 L426.36,76.00 L425.76,77.00 L425.16,78.00 L424.56,79.00 L423.95,80.00 L423.33,81.00 L422.71,82.00 L422.09,83.00 L421.46,84.00 L420.83,85.00 L420.19,86.00 L419.54,87.00 L418.89,88.00 L418.24,89.00 L417.58,90.00 L416.91,91.00 L416.24,92.00 L415.56,93.00 L414.88,94.00 L414.19,95.00 L413.50,96.00 L412.80,97.00 L412.09,98.00 L411.38,99.00 L410.67,100.00 L409.94,101.00 L409.22,102.00 L408.48,103.00 L407.74,104.00 L406.99,105.00 L406.24,106.00 L405.48,107.00 L404.72,108.00 L403.95,109.00 L403.17,110.00 L402.38,111.00 L401.59,112.00 L400.79,113.00 L399.99,114.00 L399.18,115.00 L398.36,116.00 L397.54,117.00 L396.71,118.00 L395.87,119.00 L395.02,120.00 L394.17,121.00 L393.31,122.00 L392.45,123.00 L391.57,124.00 L390.69,125.00 L389.80,126.00 L388.90,127.00 L388.00,128.00 L387.09,129.00 L386.17,130.00 L385.24,131.00 L384.31,132.00 L383.36,133.00 L382.41,134.00 L381.45,135.00 L380.48,136.00 L379.51,137.00 L378.52,138.00 L377.53,139.00 L376.53,140.00 L375.51,141.00 L374.49,142.00 L373.47,143.00 L372.43,144.00 L371.38,145.00 L370.33,146.00 L369.26,147.00 L368.18,148.00 L367.10,149.00 L366.01,150.00 L364.90,151.00 L363.79,152.00 L362.66,153.00 L361.53,154.00 L360.38,155.00 L359.23,156.00 L358.06,157.00 L356.89,158.00 L355.70,159.00 L354.50,160.00 L353.29,161.00 L352.07,162.00 L350.84,163.00 L349.60,164.00 L348.34,165.00 L347.08,166.00 L345.80,167.00 L344.51,168.00 L343.21,169.00 L341.89,170.00 L340.56,171.00 L339.22,172.00 L337.87,173.00 L336.50,174.00 L335.12,175.00 L333.73,176.00 L332.32,177.00 L330.97,178.00 L329.60,179.00 L328.22,180.00 L326.83,181.00 L325.43,182.00 L324.00,183.00 L322.57,184.00 L321.12,185.00 L319.66,186.00 L318.18,187.00 L316.69,188.00 L315.18,189.00 L313.65,190.00 L312.11,191.00 L310.56,192.00 L308.99,193.00 L307.40,194.00 L305.79,195.00 L304.17,196.00 L302.53,197.00 L300.88,198.00 L299.20,199.00 L297.51,200.00 L295.80,201.00 L294.07,202.00 L292.32,203.00 L290.55,204.00 L288.77,205.00 L286.96,206.00 L285.13,207.00 L283.28,208.00 L281.42,209.00 L279.52,210.00 L277.61,211.00 L275.68,212.00 L273.72,213.00 L271.74,214.00 L269.74,215.00 L267.71,216.00 L265.66,217.00 L263.59,218.00 L261.49,219.00 L259.36,220.00 L257.21,221.00 L255.03,222.00 L252.83,223.00 L250.60,224.00 L248.34,225.00 L246.05,226.00 L243.73,227.00 L241.39,228.00 L239.01,229.00 L236.60,230.00 L234.17,231.00 L231.70,232.00 L229.19,233.00 L226.66,234.00 L224.09,235.00 L221.49,236.00 L218.85,237.00 L216.17,238.00 L213.46,239.00 L210.71,240.00 L207.93,241.00 L205.10,242.00 L202.24,243.00 L201.37,243.30" fill="none" stroke="#111" stroke-width="0.8" />
<path d="M470.94,95.00 L470.45,96.00 L469.96,97.00 L469.47,98.00 L468.97,99.00 L468.47,100.00 L467.96,101.00 L467.45,102.00 L466.94,103.00 L466.42,104.00 L465.90,105.00 L465.38,106.00 L464.85,107.00 L464.32,108.00 L463.79,109.00 L463.25,110.00 L462.70,111.00 L462.16,112.00 L461.61,113.00 L461.05,114.00 L460.49,115.00 L459.93,116.00 L459.36,117.00 L458.79,118.00 L458.21,119.00 L457.63,120.00 L457.05,121.00 L456.46,122.00 L455.87,123.00 L455.27,124.00 L454.66,125.00 L454.06,126.00 L453.44,127.00 L452.83,128.00 L452.21,129.00 L451.58,130.00 L450.95,131.00 L450.31,132.00 L449.67,133.00 L449.02,134.00 L448.37,135.00 L447.71,136.00 L447.05,137.00 L446.38,138.00 L445.71,139.00 L445.03,140.00 L444.35,141.00 L443.66,142.00 L442.96,143.00 L442.26,144.00 L441.58,145.00 L440.88,146.00 L440.19,147.00 L439.48,148.00 L438.77,149.00 L438.06,150.00 L437.33,151.00 L436.60,152.00 L435.86,153.00 L435.12,154.00 L434.37,155.00 L433.61,156.00 L432.84,157.00 L432.07,158.00 L431.29,159.00 L430.50,160.00 L429.70,161.00 L428.90,162.00 L428.09,163.00 L427.27,164.00 L426.44,165.00 L425.60,166.00 L424.76,167.00 L423.91,168.00 L423.05,169.00 L422.18,170.00 L421.30,171.00 L420.41,172.00 L419.52,173.00 L418.61,174.00 L417.70,175.00 L416.78,176.00 L415.84,177.00 L414.90,178.00 L413.95,179.00 L412.99,180.00 L412.02,181.00 L411.04,182.00 L410.05,183.00 L409.04,184.00 L408.03,185.00 L407.01,186.00 L405.97,187.00 L404.93,188.00 L403.87,189.00 L402.81,190.00 L401.73,191.00 L400.64,192.00 L399.53,193.00 L398.42,194.00 L397.29,195.00 L396.15,196.00 L395.00,197.00 L393.84,198.00 L392.66,199.00 L391.47,200.00 L390.27,201.00 L389.05,202.00 L387.82,203.00 L386.58,204.00 L385.32,205.00 L384.04,206.00 L382.76,207.00 L381.45,208.00 L380.14,209.00 L378.80,210.00 L377.45,211.00 L376.09,212.00 L374.71,213.00 L373.31,214.00 L371.89,215.00 L370.46,216.00 L369.01,217.00 L367.55,218.00 L366.06,219.00 L364.56,220.00 L363.04,221.00 L361.50,222.00 L359.94,223.00 L358.36,224.00 L356.76,225.00 L355.14,226.00 L353.50,227.00 L351.84,228.00 L350.15,229.00 L348.45,230.00 L346.72,231.00 L344.97,232.00 L343.20,233.00 L341.40,234.00 L339.58,235.00 L337.73,236.00 L335.86,237.00 L333.96,238.00 L332.05,239.00 L330.12,240.00 L328.16,241.00 L326.18,242.00 L324.17,243.00 L323.56,243.30" fill="none" stroke="#111" stroke-width="0.8" />
<path d="M562.49,13.00 L562.27,14.00 L562.06,15.00 L561.84,16.00 L561.62,17.00 L561.40,18.00 L561.18,19.00 L560.96,20.00 L560.69,21.00 L560.43,22.00 L560.16,23.00 L559.89,24.00 L559.63,25.00 L559.36,26.00 L559.09,27.00 L558.82,28.00 L558.54,29.00 L558.27,30.00 L558.00,31.00 L557.72,32.00 L557.45,33.00 L557.17,34.00 L556.89,35.00 L556.61,36.00 L556.33,37.00 L556.05,38.00 L555.77,39.00 L555.49,40.00 L555.20,41.00 L554.92,42.00 L554.63,43.00 L554.34,44.00 L554.05,45.00 L553.76,46.00 L553.47,47.00 L553.18,48.00 L552.89,49.00 L552.59,50.00 L552.29,51.00 L552.00,52.00 L551.70,53.00 L551.40,54.00 L551.10,55.00 L550.79,56.00 L550.49,57.00 L550.19,58.00 L549.88,59.00 L549.57,60.00 L549.26,61.00 L548.95,62.00 L548.64,63.00 L548.33,64.00 L548.01,65.00 L547.69,66.00 L547.38,67.00 L547.06,68.00 L546.73,69.00 L546.41,70.00 L546.09,71.00 L545.76,72.00 L545.44,73.00 L545.11,74.00 L544.78,75.00 L544.44,76.00 L544.11,77.00 L543.77,78.00 L543.44,79.00 L543.10,80.00 L542.76,81.00 L542.42,82.00 L542.07,83.00 L541.72,84.00 L541.38,85.00 L541.03,86.00 L540.68,87.00 L540.32,88.00 L539.97,89.00 L539.61,90.00 L539.25,91.00 L538.89,92.00 L538.52,93.00 L538.16,94.00 L537.79,95.00 L537.42,96.00 L537.05,97.00 L536.68,98.00 L536.30,99.00 L535.92,100.00 L535.54,101.00 L535.16,102.00 L534.77,103.00 L534.39,104.00 L534.00,105.00 L533.61,106.00 L533.21,107.00 L532.81,108.00 L532.42,109.00 L532.01,110.00 L531.61,111.00 L531.20,112.00 L530.79,113.00 L530.38,114.00 L529.97,115.00 L529.55,116.00 L529.13,117.00 L528.71,118.00 L528.28,119.00 L527.85,120.00 L527.42,121.00 L526.99,122.00 L526.55,123.00 L526.11,124.00 L525.67,125.00 L525.22,126.00 L524.77,127.00 L524.32,128.00 L523.87,129.00 L523.41,130.00 L522.95,131.00 L522.48,132.00 L522.01,133.00 L521.54,134.00 L521.07,135.00 L520.59,136.00 L520.11,137.00 L519.62,138.00 L519.13,139.00 L518.64,140.00 L518.14,141.00 L517.64,142.00 L517.14,143.00 L516.63,144.00 L516.12,145.00 L515.60,146.00 L515.08,147.00 L514.56,148.00 L514.03,149.00 L513.50,150.00 L512.96,151.00 L512.42,152.00 L511.88,153.00 L511.33,154.00 L510.77,155.00 L510.22,156.00 L509.65,157.00 L509.09,158.00 L508.51,159.00 L507.94,160.00 L507.36,161.00 L506.77,162.00 L506.18,163.00 L505.58,164.00 L504.98,165.00 L504.37,166.00 L503.76,167.00 L503.14,168.00 L502.52,169.00 L501.89,170.00 L501.25,171.00 L500.61,172.00 L499.97,173.00 L499.31,174.00 L498.66,175.00 L497.99,176.00 L497.32,177.00 L496.65,178.00 L495.96,179.00 L495.27,180.00 L494.58,181.00 L493.88,182.00 L493.17,183.00 L492.45,184.00 L491.73,185.00 L491.00,186.00 L490.26,187.00 L489.52,188.00 L488.77,189.00 L488.01,190.00 L487.24,191.00 L486.47,192.00 L485.68,193.00 L484.89,194.00 L484.09,195.00 L483.29,196.00 L482.47,197.00 L481.65,198.00 L480.81,199.00 L479.97,200.00 L479.12,201.00 L478.26,202.00 L477.39,203.00 L476.51,204.00 L475.63,205.00 L474.73,206.00 L473.82,207.00 L472.90,208.00 L471.97,209.00 L471.03,210.00 L470.08,211.00 L469.12,212.00 L468.15,213.00 L467.17,214.00 L466.17,215.00 L465.17,216.00 L464.15,217.00 L463.12,218.00 L462.08,219.00 L461.02,220.00 L459.95,221.00 L458.87,222.00 L457.78,223.00 L456.67,224.00 L455.55,225.00 L454.41,226.00 L453.26,227.00 L452.10,228.00 L450.92,229.00 L449.72,230.00 L448.51,231.00 L447.28,232.00 L446.04,233.00 L444.78,234.00 L443.50,235.00 L442.21,236.00 L440.90,237.00 L439.57,238.00 L438.22,239.00 L436.86,240.00 L435.47,241.00 L434.05,242.00 L432.59,243.00 L432.15,243.30" fill="none" stroke="#111" stroke-width="0.8" />
<path d="M594.80,13.00 L594.67,14.00 L594.53,15.00 L594.39,16.00 L594.25,17.00 L594.11,18.00 L593.97,19.00 L593.83,20.00 L593.68,21.00 L593.54,22.00 L593.40,23.00 L593.25,24.00 L593.11,25.00 L592.96,26.00 L592.81,27.00 L592.67,28.00 L592.52,29.00 L592.37,30.00 L592.22,31.00 L592.06,32.00 L591.91,33.00 L591.76,34.00 L591.61,35.00 L591.45,36.00 L591.29,37.00 L591.14,38.00 L590.98,39.00 L590.82,40.00 L590.66,41.00 L590.50,42.00 L590.34,43.00 L590.18,44.00 L590.01,45.00 L589.85,46.00 L589.69,47.00 L589.52,48.00 L589.35,49.00 L589.18,50.00 L589.02,51.00 L588.85,52.00 L588.67,53.00 L588.50,54.00 L588.33,55.00 L588.15,56.00 L587.98,57.00 L587.80,58.00 L587.62,59.00 L587.45,60.00 L587.27,61.00 L587.09,62.00 L586.90,63.00 L586.72,64.00 L586.54,65.00 L586.35,66.00 L586.16,67.00 L585.98,68.00 L585.79,69.00 L585.60,70.00 L585.41,71.00 L585.21,72.00 L585.02,73.00 L584.83,74.00 L584.63,75.00 L584.43,76.00 L584.23,77.00 L584.03,78.00 L583.83,79.00 L583.63,80.00 L583.42,81.00 L583.22,82.00 L583.01,83.00 L582.80,84.00 L582.59,85.00 L582.38,86.00 L582.17,87.00 L581.96,88.00 L581.74,89.00 L581.53,90.00 L581.31,91.00 L581.09,92.00 L580.87,93.00 L580.64,94.00 L580.42,95.00 L580.19,96.00 L579.97,97.00 L579.74,98.00 L579.51,99.00 L579.28,100.00 L579.04,101.00 L578.81,102.00 L578.57,103.00 L578.33,104.00 L578.09,105.00 L577.85,106.00 L577.60,107.00 L577.36,108.00 L577.11,109.00 L576.86,110.00 L576.61,111.00 L576.36,112.00 L576.10,113.00 L575.85,114.00 L575.59,115.00 L575.33,116.00 L575.07,117.00 L574.80,118.00 L574.53,119.00 L574.27,120.00 L574.00,121.00 L573.72,122.00 L573.45,123.00 L573.17,124.00 L572.89,125.00 L572.61,126.00 L572.33,127.00 L572.04,128.00 L571.76,129.00 L571.47,130.00 L571.18,131.00 L570.88,132.00 L570.58,133.00 L570.29,134.00 L569.98,135.00 L569.68,136.00 L569.37,137.00 L569.07,138.00 L568.75,139.00 L568.44,140.00 L568.12,141.00 L567.81,142.00 L567.48,143.00 L567.16,144.00 L566.83,145.00 L566.50,146.00 L566.17,147.00 L565.84,148.00 L565.50,149.00 L565.16,150.00 L564.81,151.00 L564.47,152.00 L564.12,153.00 L563.76,154.00 L563.41,155.00 L563.05,156.00 L562.69,157.00 L562.32,158.00 L561.95,159.00 L561.58,160.00 L561.19,161.00 L560.81,162.00 L560.41,163.00 L560.02,164.00 L559.62,165.00 L559.22,166.00 L558.81,167.00 L558.40,168.00 L557.99,169.00 L557.58,170.00 L557.16,171.00 L556.74,172.00 L556.31,173.00 L555.88,174.00 L555.44,175.00 L555.01,176.00 L554.57,177.00 L554.12,178.00 L553.67,179.00 L553.22,180.00 L552.76,181.00 L552.30,182.00 L551.83,183.00 L551.36,184.00 L550.88,185.00 L550.40,186.00 L549.92,187.00 L549.43,188.00 L548.94,189.00 L548.44,190.00 L547.94,191.00 L547.43,192.00 L546.91,193.00 L546.40,194.00 L545.87,195.00 L545.34,196.00 L544.81,197.00 L544.27,198.00 L543.72,199.00 L543.17,200.00 L542.62,201.00 L542.06,202.00 L541.49,203.00 L540.91,204.00 L540.33,205.00 L539.75,206.00 L539.15,207.00 L538.55,208.00 L537.95,209.00 L537.33,210.00 L536.71,211.00 L536.09,212.00 L535.45,213.00 L534.81,214.00 L534.17,215.00 L533.51,216.00 L532.85,217.00 L532.18,218.00 L531.50,219.00 L530.81,220.00 L530.12,221.00 L529.41,222.00 L528.70,223.00 L527.98,224.00 L527.25,225.00 L526.51,226.00 L525.77,227.00 L525.01,228.00 L524.24,229.00 L523.47,230.00 L522.68,231.00 L521.89,232.00 L521.08,233.00 L520.26,234.00 L519.44,235.00 L518.60,236.00 L517.75,237.00 L516.89,238.00 L516.02,239.00 L515.13,240.00 L514.23,241.00 L513.33,242.00 L512.40,243.00 L512.11,243.30" fill="none" stroke="#111" stroke-width="0.8" />
<path d="M505.45,139.00 L504.47,140.00 L503.49,141.00 L502.50,142.00 L501.51,143.00 L500.50,144.00 L499.49,145.00 L498.47,146.00 L497.45,147.00 L496.41,148.00 L495.37,149.00 L494.31,150.00 L493.25,151.00 L492.18,152.00 L491.10,153.00 L490.02,154.00 L488.92,155.00 L487.82,156.00 L486.70,157.00 L485.58,158.00 L484.45,159.00 L483.43,160.00 L482.41,161.00 L481.38,162.00 L480.34,163.00 L479.29,164.00 L478.23,165.00 L477.16,166.00 L476.08,167.00 L474.99,168.00 L473.88,169.00 L472.77,170.00 L471.65,171.00 L470.51,172.00 L469.37,173.00 L468.21,174.00 L467.04,175.00 L465.86,176.00 L464.67,177.00 L463.46,178.00 L462.24,179.00 L461.02,180.00 L459.77,181.00 L458.52,182.00 L457.25,183.00 L455.97,184.00 L454.68,185.00 L453.37,186.00 L452.05,187.00 L450.72,188.00 L449.37,189.00 L448.01,190.00 L446.63,191.00 L445.24,192.00 L443.83,193.00 L442.41,194.00 L440.97,195.00 L439.52,196.00 L438.05,197.00 L436.57,198.00 L435.06,199.00 L433.55,200.00 L432.01,201.00 L430.46,202.00 L428.89,203.00 L427.31,204.00 L425.70,205.00 L424.08,206.00 L422.44,207.00 L420.78,208.00 L419.10,209.00 L417.40,210.00 L415.68,211.00 L413.94,212.00 L412.18,213.00 L410.40,214.00 L408.60,215.00 L406.78,216.00 L404.93,217.00 L403.06,218.00 L401.17,219.00 L399.26,220.00 L397.32,221.00 L395.36,222.00 L393.38,223.00 L391.37,224.00 L389.33,225.00 L387.27,226.00 L385.18,227.00 L383.07,228.00 L380.92,229.00 L378.75,230.00 L376.56,231.00 L374.33,232.00 L372.07,233.00 L369.79,234.00 L367.47,235.00 L365.12,236.00 L362.74,237.00 L360.33,238.00 L357.88,239.00 L355.40,240.00 L352.89,241.00 L350.36,242.00 L347.79,243.00 L347.02,243.30" fill="none" stroke="#111" stroke-width="0.8" />
<path d="M505.75,139.00 L505.14,140.00 L504.54,141.00 L503.92,142.00 L503.30,143.00 L502.68,144.00 L502.05,145.00 L501.42,146.00 L500.78,147.00 L500.14,148.00 L499.49,149.00 L498.84,150.00 L498.27,151.00 L497.69,152.00 L497.10,153.00 L496.50,154.00 L495.90,155.00 L495.29,156.00 L494.67,157.00 L494.04,158.00 L493.41,159.00 L492.77,160.00 L492.12,161.00 L491.47,162.00 L490.80,163.00 L490.13,164.00 L489.49,165.00 L488.84,166.00 L488.18,167.00 L487.51,168.00 L486.83,169.00 L486.15,170.00 L485.45,171.00 L484.75,172.00 L484.04,173.00 L483.32,174.00 L482.59,175.00 L481.86,176.00 L481.11,177.00 L480.35,178.00 L479.59,179.00 L478.81,180.00 L478.03,181.00 L477.23,182.00 L476.43,183.00 L475.61,184.00 L474.79,185.00 L473.95,186.00 L473.11,187.00 L472.25,188.00 L471.38,189.00 L470.51,190.00 L469.62,191.00 L468.72,192.00 L467.81,193.00 L466.89,194.00 L465.95,195.00 L465.01,196.00 L464.05,197.00 L463.08,198.00 L462.10,199.00 L461.11,200.00 L460.10,201.00 L459.08,202.00 L458.05,203.00 L457.01,204.00 L455.95,205.00 L454.88,206.00 L453.79,207.00 L452.69,208.00 L451.58,209.00 L450.45,210.00 L449.31,211.00 L448.15,212.00 L446.98,213.00 L445.80,214.00 L444.60,215.00 L443.38,216.00 L442.15,217.00 L440.90,218.00 L439.63,219.00 L438.35,220.00 L437.05,221.00 L435.73,222.00 L434.40,223.00 L433.05,224.00 L431.68,225.00 L430.29,226.00 L428.88,227.00 L427.46,228.00 L426.01,229.00 L424.55,230.00 L423.06,231.00 L421.56,232.00 L420.03,233.00 L418.48,234.00 L416.92,235.00 L415.33,236.00 L413.71,237.00 L412.08,238.00 L410.42,239.00 L408.74,240.00 L407.03,241.00 L405.35,242.00 L403.67,243.00 L403.16,243.30" fill="none" stroke="#111" stroke-width="0.8" />
<path d="M516.92,13.00 L516.48,14.00 L516.05,15.00 L515.59,16.00 L515.10,17.00 L514.62,18.00 L514.13,19.00 L513.65,20.00 L513.16,21.00 L512.66,22.00 L512.17,23.00 L511.67,24.00 L511.18,25.00 L510.68,26.00 L510.18,27.00 L509.67,28.00 L509.17,29.00 L508.66,30.00 L508.15,31.00 L507.64,32.00 L507.12,33.00 L506.61,34.00 L506.09,35.00 L505.57,36.00 L505.04,37.00 L504.52,38.00 L503.99,39.00 L503.46,40.00 L502.93,41.00 L502.40,42.00 L501.86,43.00 L501.32,44.00 L500.78,45.00 L500.24,46.00 L499.69,47.00 L499.14,48.00 L498.59,49.00 L498.04,50.00 L497.48,51.00 L496.92,52.00 L496.36,53.00 L495.79,54.00 L495.23,55.00 L494.66,56.00 L494.08,57.00 L493.51,58.00 L492.93,59.00 L492.35,60.00 L491.76,61.00 L491.18,62.00 L490.59,63.00 L489.99,64.00 L489.40,65.00 L488.80,66.00 L488.20,67.00 L487.59,68.00 L486.98,69.00 L486.37,70.00 L485.76,71.00 L485.14,72.00 L484.52,73.00 L483.89,74.00 L483.26,75.00 L482.63,76.00 L482.00,77.00 L481.36,78.00 L480.72,79.00 L480.07,80.00 L479.42,81.00 L478.77,82.00 L478.11,83.00 L477.45,84.00 L476.79,85.00 L476.12,86.00 L475.45,87.00 L474.77,88.00 L474.09,89.00 L473.41,90.00 L472.72,91.00 L472.03,92.00 L471.33,93.00 L470.63,94.00 L469.93,95.00 L469.22,96.00 L468.51,97.00 L467.79,98.00 L467.07,99.00 L466.34,100.00 L465.61,101.00 L464.88,102.00 L464.14,103.00 L463.39,104.00 L462.64,105.00 L461.89,106.00 L461.13,107.00 L460.36,108.00 L459.59,109.00 L458.82,110.00 L458.04,111.00 L457.25,112.00 L456.46,113.00 L455.67,114.00 L454.87,115.00 L454.06,116.00 L453.25,117.00 L452.43,118.00 L451.61,119.00 L450.78,120.00 L449.94,121.00 L449.10,122.00 L448.25,123.00 L447.40,124.00 L446.54,125.00 L445.68,126.00 L444.81,127.00 L443.93,128.00 L443.04,129.00 L442.15,130.00 L441.26,131.00 L440.35,132.00 L439.44,133.00 L438.52,134.00 L437.60,135.00 L436.67,136.00 L435.73,137.00 L434.78,138.00 L433.83,139.00 L432.87,140.00 L431.90,141.00 L430.93,142.00 L429.94,143.00 L428.95,144.00 L427.95,145.00 L426.94,146.00 L425.93,147.00 L424.91,148.00 L423.87,149.00 L422.83,150.00 L421.78,151.00 L420.73,152.00 L419.66,153.00 L418.58,154.00 L417.50,155.00 L416.41,156.00 L415.30,157.00 L414.19,158.00 L413.07,159.00 L411.94,160.00 L410.75,161.00 L409.56,162.00 L408.36,163.00 L407.14,164.00 L405.92,165.00 L404.68,166.00 L403.43,167.00 L402.17,168.00 L400.90,169.00 L399.62,170.00 L398.33,171.00 L397.02,172.00 L395.70,173.00 L394.37,174.00 L393.02,175.00 L391.67,176.00 L390.30,177.00 L388.91,178.00 L387.52,179.00 L386.11,180.00 L384.68,181.00 L383.24,182.00 L381.79,183.00 L380.32,184.00 L378.84,185.00" fill="none" stroke="#222" stroke-width="0.8" stroke-dasharray="1.2,0.6"/>
<path d="M503.03,13.00 L502.63,14.00 L502.23,15.00 L501.88,16.00 L501.55,17.00 L501.22,18.00 L500.89,19.00 L500.55,20.00 L500.21,21.00 L499.87,22.00 L499.53,23.00 L499.18,24.00 L498.83,25.00 L498.47,26.00 L498.11,27.00 L497.75,28.00 L497.39,29.00 L497.02,30.00 L496.65,31.00 L496.28,32.00 L495.90,33.00 L495.52,34.00 L495.14,35.00 L494.75,36.00 L494.37,37.00 L493.97,38.00 L493.58,39.00 L493.18,40.00 L492.77,41.00 L492.37,42.00 L491.96,43.00 L491.54,44.00 L491.13,45.00 L490.71,46.00 L490.28,47.00 L489.85,48.00 L489.42,49.00 L488.99,50.00 L488.55,51.00 L488.11,52.00 L487.66,53.00 L487.21,54.00 L486.76,55.00 L486.30,56.00 L485.84,57.00 L485.37,58.00 L484.91,59.00 L484.43,60.00 L483.96,61.00 L483.48,62.00 L482.99,63.00 L482.50,64.00 L482.01,65.00 L481.51,66.00 L481.01,67.00 L480.51,68.00 L480.00,69.00 L479.49,70.00 L478.97,71.00 L478.45,72.00 L477.92,73.00 L477.39,74.00 L476.86,75.00 L476.32,76.00 L475.77,77.00 L475.23,78.00 L474.67,79.00 L474.12,80.00 L473.55,81.00 L472.99,82.00 L472.42,83.00 L471.84,84.00 L471.26,85.00 L470.68,86.00 L470.09,87.00 L469.49,88.00 L468.89,89.00 L468.29,90.00 L467.68,91.00 L467.06,92.00 L466.44,93.00 L465.82,94.00 L465.19,95.00 L464.55,96.00 L463.91,97.00 L463.26,98.00 L462.61,99.00 L461.95,100.00 L461.29,101.00 L460.62,102.00 L459.95,103.00 L459.27,104.00 L458.59,105.00 L457.90,106.00 L457.20,107.00 L456.50,108.00 L455.79,109.00 L455.08,110.00 L454.36,111.00 L453.63,112.00 L452.90,113.00 L452.16,114.00 L451.42,115.00 L450.67,116.00 L449.91,117.00 L449.15,118.00 L448.38,119.00 L447.60,120.00 L446.82,121.00 L446.03,122.00 L445.23,123.00 L444.43,124.00 L443.62,125.00 L442.80,126.00 L441.98,127.00 L441.15,128.00 L440.31,129.00 L439.46,130.00 L438.61,131.00 L437.75,132.00 L436.88,133.00 L436.01,134.00 L435.12,135.00 L434.23,136.00 L433.33,137.00 L432.43,138.00 L431.51,139.00 L430.59,140.00 L429.66,141.00 L428.72,142.00 L427.77,143.00 L426.82,144.00 L425.86,145.00 L424.88,146.00 L423.90,147.00 L422.91,148.00 L421.91,149.00 L420.90,150.00 L419.89,151.00 L418.86,152.00 L417.82,153.00 L416.78,154.00 L415.72,155.00 L414.66,156.00 L413.58,157.00 L412.50,158.00 L411.40,159.00 L410.30,160.00 L409.18,161.00 L408.06,162.00 L406.92,163.00 L405.78,164.00 L404.62,165.00 L403.45,166.00 L402.27,167.00 L401.08,168.00 L399.88,169.00 L398.66,170.00 L397.44,171.00 L396.20,172.00" fill="none" stroke="#555" stroke-width="0.6" />
<path d="M360.3,15 L332.3,50.5" stroke="#111" stroke-width="0.7"/>
<path d="M332,43.3 L455,43.6 C462,43.9 470,44.6 476,45.3 L488,46.6" fill="none" stroke="#111" stroke-width="0.8"/>
<path d="M523.3,15 C525.5,22 530,30 535,36 C537,38.5 539,41.5 540.5,44.5" fill="none" stroke="#111" stroke-width="0.7"/>
<path d="M434.62,13.00 L434.17,14.00 L433.72,15.00 L433.27,16.00 L432.82,17.00 L432.36,18.00 L431.90,19.00 L431.44,20.00 L430.92,21.00 L430.39,22.00 L429.87,23.00 L429.34,24.00 L428.81,25.00 L428.28,26.00 L427.75,27.00 L427.21,28.00 L426.67,29.00 L426.14,30.00 L425.60,31.00 L425.05,32.00 L424.51,33.00 L423.96,34.00 L423.42,35.00 L422.87,36.00 L422.31,37.00 L421.76,38.00 L421.21,39.00 L420.65,40.00 L420.09,41.00 L419.53,42.00 L418.96,43.00 L418.40,44.00 L417.83,45.00 L417.26,46.00 L416.68,47.00 L416.11,48.00 L415.53,49.00 L414.95,50.00 L414.37,51.00 L413.78,52.00 L413.20,53.00 L412.61,54.00 L412.02,55.00 L411.42,56.00 L410.83,57.00 L410.23,58.00 L409.62,59.00 L409.02,60.00 L408.41,61.00 L407.80,62.00 L407.19,63.00 L406.57,64.00 L405.96,65.00 L405.34,66.00 L404.71,67.00 L404.08,68.00 L403.45,69.00 L402.82,70.00 L402.19,71.00 L401.55,72.00 L400.91,73.00 L400.26,74.00 L399.61,75.00 L398.96,76.00 L398.31,77.00 L397.65,78.00 L396.99,79.00 L396.32,80.00 L395.65,81.00 L394.98,82.00 L394.31,83.00 L393.63,84.00 L392.95,85.00 L392.26,86.00 L391.57,87.00 L390.88,88.00 L390.18,89.00 L389.48,90.00 L388.78,91.00 L388.07,92.00 L387.36,93.00 L386.64,94.00 L385.92,95.00 L385.19,96.00 L384.46,97.00 L383.73,98.00 L382.99,99.00 L382.25,100.00 L381.51,101.00 L380.76,102.00 L380.00,103.00 L379.24,104.00 L378.48,105.00 L377.71,106.00 L376.93,107.00 L376.16,108.00 L375.37,109.00 L374.58,110.00 L373.79,111.00 L372.99,112.00 L372.19,113.00 L371.38,114.00 L370.57,115.00 L369.75,116.00 L368.92,117.00 L368.09,118.00 L367.26,119.00 L366.42,120.00 L365.57,121.00 L364.72,122.00 L363.86,123.00 L362.99,124.00 L362.12,125.00 L361.25,126.00 L360.37,127.00 L359.48,128.00 L358.58,129.00 L357.68,130.00 L356.77,131.00 L355.86,132.00 L354.94,133.00 L354.01,134.00 L353.07,135.00 L352.13,136.00 L351.18,137.00 L350.23,138.00 L349.26,139.00 L348.29,140.00 L347.31,141.00 L346.33,142.00 L345.34,143.00 L344.33,144.00 L343.33,145.00 L342.31,146.00 L341.28,147.00 L340.25,148.00 L339.21,149.00 L338.16,150.00 L337.10,151.00 L336.04,152.00 L334.96,153.00 L333.87,154.00 L332.78,155.00 L331.61,156.00 L330.43,157.00 L329.25,158.00 L328.05,159.00 L326.84,160.00 L325.62,161.00 L324.38,162.00 L323.14,163.00 L321.89,164.00 L320.62,165.00 L319.34,166.00 L318.06,167.00 L316.76,168.00 L315.44,169.00 L314.12,170.00 L312.78,171.00 L311.43,172.00 L310.07,173.00 L308.69,174.00 L307.31,175.00 L305.90,176.00 L304.49,177.00 L303.06,178.00 L301.62,179.00 L300.16,180.00 L298.69,181.00 L297.21,182.00 L295.71,183.00 L294.19,184.00 L292.66,185.00 L291.11,186.00 L289.55,187.00 L287.98,188.00 L286.38,189.00 L284.77,190.00 L283.15,191.00 L281.51,192.00 L279.85,193.00 L278.17,194.00 L276.48,195.00 L274.76,196.00 L273.03,197.00 L271.28,198.00 L269.51,199.00 L267.73,200.00 L265.92,201.00 L264.09,202.00 L262.25,203.00 L260.38,204.00 L258.49,205.00 L256.59,206.00 L254.66,207.00 L252.71,208.00 L250.73,209.00 L248.74,210.00 L246.72,211.00 L244.67,212.00 L242.61,213.00 L240.52,214.00 L238.40,215.00 L236.26,216.00 L234.10,217.00 L231.91,218.00 L229.69,219.00 L227.44,220.00 L225.17,221.00 L222.87,222.00 L220.55,223.00 L218.19,224.00 L215.80,225.00 L213.39,226.00 L210.94,227.00 L208.46,228.00 L205.95,229.00 L203.41,230.00 L200.84,231.00 L198.23,232.00 L195.59,233.00 L192.91,234.00 L190.20,235.00 L187.45,236.00 L184.66,237.00 L181.84,238.00 L178.97,239.00 L176.07,240.00 L173.13,241.00 L172.24,241.30" fill="none" stroke="#000" stroke-width="2.8" stroke-linejoin="round"/>
<path d="M455.03,13.00 L454.47,14.00 L453.90,15.00 L453.33,16.00 L452.76,17.00 L452.18,18.00 L451.60,19.00 L451.02,20.00 L450.49,21.00 L449.96,22.00 L449.42,23.00 L448.88,24.00 L448.33,25.00 L447.78,26.00 L447.23,27.00 L446.67,28.00 L446.11,29.00 L445.54,30.00 L444.97,31.00 L444.39,32.00 L443.81,33.00 L443.22,34.00 L442.63,35.00 L442.03,36.00 L441.43,37.00 L440.83,38.00 L440.22,39.00 L439.60,40.00 L438.98,41.00 L438.35,42.00 L437.72,43.00 L437.09,44.00 L436.45,45.00 L435.80,46.00 L435.15,47.00 L434.50,48.00 L433.84,49.00 L433.17,50.00 L432.50,51.00 L431.82,52.00 L431.14,53.00 L430.45,54.00 L429.76,55.00 L429.06,56.00 L428.36,57.00 L427.65,58.00 L426.94,59.00 L426.21,60.00 L425.49,61.00 L424.76,62.00 L424.02,63.00 L423.28,64.00 L422.53,65.00 L421.77,66.00 L421.01,67.00 L420.24,68.00 L419.47,69.00 L418.69,70.00 L417.91,71.00 L417.12,72.00 L416.32,73.00 L415.52,74.00 L414.71,75.00 L413.89,76.00 L413.07,77.00 L412.24,78.00 L411.40,79.00 L410.56,80.00 L409.71,81.00 L408.86,82.00 L407.99,83.00 L407.13,84.00 L406.25,85.00 L405.37,86.00 L404.48,87.00 L403.58,88.00 L402.68,89.00 L401.77,90.00 L400.85,91.00 L399.92,92.00 L398.99,93.00 L398.05,94.00 L397.10,95.00 L396.15,96.00 L395.19,97.00 L394.22,98.00 L393.24,99.00 L392.26,100.00 L391.26,101.00 L390.26,102.00 L389.25,103.00 L388.23,104.00 L387.21,105.00 L386.18,106.00 L385.13,107.00 L384.08,108.00 L383.03,109.00 L381.96,110.00 L380.88,111.00 L379.80,112.00 L378.70,113.00 L377.60,114.00 L376.49,115.00 L375.37,116.00 L374.24,117.00 L373.10,118.00 L371.96,119.00 L370.56,120.00 L368.83,121.00 L366.99,122.00 L365.20,123.00 L363.61,124.00 L362.28,125.00 L361.25,126.00" fill="none" stroke="#000" stroke-width="2.8" stroke-linejoin="round"/>
<path d="M471.97,13.00 L471.56,14.00 L471.15,15.00 L470.74,16.00 L470.32,17.00 L469.90,18.00 L469.48,19.00 L469.06,20.00 L468.64,21.00 L468.21,22.00 L467.79,23.00 L467.36,24.00 L466.93,25.00 L466.49,26.00 L466.05,27.00 L465.62,28.00 L465.17,29.00 L464.73,30.00 L464.28,31.00 L463.83,32.00 L463.38,33.00 L462.93,34.00 L462.47,35.00 L462.01,36.00 L461.55,37.00 L461.08,38.00 L460.61,39.00 L460.14,40.00 L459.67,41.00 L459.19,42.00 L458.71,43.00 L458.23,44.00 L457.75,45.00 L457.26,46.00 L456.77,47.00 L456.28,48.00 L455.78,49.00 L455.28,50.00 L454.78,51.00 L454.27,52.00 L453.76,53.00 L453.25,54.00 L452.73,55.00 L452.22,56.00 L451.69,57.00 L451.17,58.00 L450.64,59.00 L450.11,60.00 L449.57,61.00 L449.04,62.00 L448.49,63.00 L447.95,64.00 L447.40,65.00 L446.85,66.00 L446.29,67.00 L445.74,68.00 L445.17,69.00 L444.61,70.00 L444.04,71.00 L443.46,72.00 L442.89,73.00 L442.31,74.00 L441.72,75.00 L441.13,76.00 L440.54,77.00 L439.94,78.00 L439.34,79.00 L438.74,80.00 L438.13,81.00 L437.52,82.00 L436.90,83.00 L436.28,84.00 L435.66,85.00 L435.03,86.00 L434.39,87.00 L433.76,88.00 L433.11,89.00 L432.47,90.00 L431.82,91.00 L431.16,92.00 L430.50,93.00 L429.84,94.00 L429.17,95.00 L428.50,96.00 L427.82,97.00 L427.13,98.00 L426.45,99.00 L425.75,100.00 L425.06,101.00 L424.35,102.00 L423.65,103.00 L422.93,104.00 L422.21,105.00 L421.49,106.00 L420.76,107.00 L420.03,108.00 L419.29,109.00 L418.55,110.00 L417.80,111.00 L417.04,112.00 L416.28,113.00 L415.51,114.00 L414.74,115.00 L413.96,116.00 L413.18,117.00 L412.39,118.00 L411.59,119.00 L410.79,120.00 L409.99,121.00 L409.17,122.00 L408.35,123.00 L407.52,124.00 L406.69,125.00 L405.85,126.00 L405.01,127.00 L404.15,128.00 L403.29,129.00 L402.43,130.00 L401.56,131.00 L400.68,132.00 L399.79,133.00 L398.89,134.00 L397.99,135.00 L397.09,136.00 L396.17,137.00 L395.25,138.00 L394.32,139.00 L393.38,140.00 L392.43,141.00 L391.48,142.00 L390.52,143.00 L389.55,144.00 L388.57,145.00 L387.58,146.00 L386.59,147.00 L385.59,148.00 L384.58,149.00 L383.56,150.00 L382.53,151.00 L381.49,152.00 L380.44,153.00 L379.39,154.00 L378.32,155.00 L377.25,156.00 L376.17,157.00 L375.07,158.00 L373.97,159.00 L372.86,160.00 L371.74,161.00 L370.60,162.00 L369.46,163.00 L368.31,164.00 L367.15,165.00 L365.97,166.00 L364.79,167.00 L363.59,168.00 L362.38,169.00 L361.17,170.00 L359.94,171.00 L358.70,172.00 L357.44,173.00 L356.18,174.00 L354.90,175.00 L353.61,176.00 L352.31,177.00 L351.00,178.00 L349.67,179.00 L348.33,180.00 L346.98,181.00 L345.61,182.00 L344.23,183.00 L342.84,184.00 L341.43,185.00 L340.01,186.00 L338.58,187.00 L337.13,188.00 L335.66,189.00 L334.93,189.50" fill="none" stroke="#000" stroke-width="2.8" stroke-linejoin="round"/>
<path d="M499.43,13.00 L499.03,14.00 L498.63,15.00 L498.28,16.00 L497.95,17.00 L497.62,18.00 L497.29,19.00 L496.95,20.00 L496.61,21.00 L496.27,22.00 L495.93,23.00 L495.58,24.00 L495.23,25.00 L494.87,26.00 L494.51,27.00 L494.15,28.00 L493.79,29.00 L493.42,30.00 L493.05,31.00 L492.68,32.00 L492.30,33.00 L491.92,34.00 L491.54,35.00 L491.15,36.00 L490.77,37.00 L490.37,38.00 L489.98,39.00 L489.58,40.00 L489.17,41.00 L488.77,42.00 L488.36,43.00 L487.94,44.00 L487.53,45.00 L487.11,46.00 L486.68,47.00 L486.25,48.00 L485.82,49.00 L485.39,50.00 L484.95,51.00 L484.51,52.00 L484.06,53.00 L483.61,54.00 L483.16,55.00 L482.70,56.00 L482.24,57.00 L481.77,58.00 L481.31,59.00 L480.83,60.00 L480.36,61.00 L479.88,62.00 L479.39,63.00 L478.90,64.00 L478.41,65.00 L477.91,66.00 L477.41,67.00 L476.91,68.00 L476.40,69.00 L475.89,70.00 L475.37,71.00 L474.85,72.00 L474.32,73.00 L473.79,74.00 L473.26,75.00 L472.72,76.00 L472.17,77.00 L471.63,78.00 L471.07,79.00 L470.52,80.00 L469.95,81.00 L469.39,82.00 L468.82,83.00 L468.24,84.00 L467.66,85.00 L467.08,86.00 L466.49,87.00 L465.89,88.00 L465.29,89.00 L464.69,90.00 L464.08,91.00 L463.46,92.00 L462.84,93.00 L462.22,94.00 L461.59,95.00 L460.95,96.00 L460.31,97.00 L459.66,98.00 L459.01,99.00 L458.35,100.00 L457.69,101.00 L457.02,102.00 L456.35,103.00 L455.67,104.00 L454.99,105.00 L454.30,106.00 L453.60,107.00 L452.90,108.00 L452.19,109.00 L451.48,110.00 L450.76,111.00 L450.03,112.00 L449.30,113.00 L448.56,114.00 L447.82,115.00 L447.07,116.00 L446.31,117.00 L445.55,118.00 L444.78,119.00 L444.00,120.00 L443.22,121.00 L442.43,122.00 L441.63,123.00 L440.83,124.00 L440.02,125.00 L439.20,126.00 L438.38,127.00 L437.55,128.00 L436.71,129.00 L435.86,130.00 L435.01,131.00 L434.15,132.00 L433.28,133.00 L432.41,134.00 L431.52,135.00 L430.63,136.00 L429.73,137.00 L428.83,138.00 L427.91,139.00 L426.99,140.00 L426.06,141.00 L425.12,142.00 L424.17,143.00 L423.22,144.00 L422.26,145.00 L421.28,146.00 L420.30,147.00 L419.31,148.00 L418.31,149.00 L417.30,150.00 L416.29,151.00 L415.26,152.00 L414.22,153.00 L413.18,154.00 L412.12,155.00 L411.06,156.00 L409.98,157.00 L408.90,158.00 L407.80,159.00 L406.70,160.00 L405.58,161.00 L404.46,162.00 L403.32,163.00 L402.18,164.00 L401.02,165.00 L399.85,166.00 L398.67,167.00 L397.48,168.00 L396.28,169.00 L395.06,170.00 L393.84,171.00 L392.60,172.00 L391.35,173.00 L390.09,174.00 L388.81,175.00 L387.53,176.00 L386.23,177.00 L384.92,178.00 L383.59,179.00 L382.25,180.00 L380.90,181.00 L379.54,182.00 L378.16,183.00 L376.76,184.00 L375.36,185.00 L373.93,186.00 L372.50,187.00 L371.05,188.00 L369.58,189.00 L368.10,190.00 L366.60,191.00 L365.09,192.00 L363.56,193.00 L362.02,194.00 L360.46,195.00 L358.88,196.00 L357.29,197.00 L355.68,198.00 L354.05,199.00 L352.40,200.00 L350.74,201.00 L349.06,202.00 L347.35,203.00 L345.63,204.00 L343.90,205.00 L342.14,206.00 L340.36,207.00 L338.56,208.00 L336.74,209.00 L335.30,209.80" fill="none" stroke="#000" stroke-width="2.8" stroke-linejoin="round"/>
<path d="M334.93,189.5 L334.6,189.5 L334.6,209.8 L335.30,209.8" fill="none" stroke="#000" stroke-width="2.8"/>
<path d="M394.50,172.00 L393.25,173.00 L391.99,174.00 L390.71,175.00 L389.43,176.00 L388.13,177.00 L386.82,178.00 L385.49,179.00 L384.15,180.00 L382.80,181.00 L381.44,182.00 L380.06,183.00 L378.66,184.00 L377.26,185.00 L375.83,186.00 L374.40,187.00 L372.95,188.00 L371.48,189.00 L370.00,190.00 L368.50,191.00 L366.99,192.00 L365.46,193.00 L363.92,194.00 L362.36,195.00 L360.78,196.00 L359.19,197.00 L357.58,198.00 L355.95,199.00 L354.30,200.00 L352.64,201.00 L350.96,202.00 L349.25,203.00 L347.53,204.00 L345.80,205.00 L344.04,206.00 L342.26,207.00 L340.46,208.00 L338.64,209.00" fill="none" stroke="#888" stroke-width="0.5" />
<path d="M552.64,13.00 L552.39,14.00 L552.15,15.00 L551.90,16.00 L551.65,17.00 L551.40,18.00 L551.14,19.00 L550.89,20.00 L550.54,21.00 L550.18,22.00 L549.83,23.00 L549.48,24.00 L549.13,25.00 L548.77,26.00 L548.42,27.00 L548.07,28.00 L547.72,29.00 L547.37,30.00 L547.01,31.00 L546.66,32.00 L546.31,33.00 L545.96,34.00 L545.61,35.00 L545.26,36.00 L544.91,37.00 L544.56,38.00 L544.20,39.00 L543.85,40.00 L543.50,41.00 L543.15,42.00 L542.80,43.00 L542.45,44.00 L542.10,45.00 L541.75,46.00 L541.40,47.00 L541.04,48.00 L540.69,49.00 L540.34,50.00 L539.99,51.00 L539.64,52.00 L539.28,53.00 L538.93,54.00 L538.58,55.00 L538.23,56.00 L537.87,57.00 L537.52,58.00 L537.17,59.00 L536.81,60.00 L536.46,61.00 L536.10,62.00 L535.75,63.00 L535.39,64.00 L535.04,65.00 L534.68,66.00 L534.32,67.00 L533.97,68.00 L533.61,69.00 L533.25,70.00 L532.89,71.00 L532.53,72.00 L532.17,73.00 L531.81,74.00 L531.45,75.00 L531.09,76.00 L530.73,77.00 L530.36,78.00 L530.00,79.00 L529.64,80.00 L529.27,81.00 L528.91,82.00 L528.54,83.00 L528.17,84.00 L527.80,85.00 L527.43,86.00 L527.06,87.00 L526.69,88.00 L526.32,89.00 L525.95,90.00 L525.57,91.00 L525.20,92.00 L524.82,93.00 L524.45,94.00 L524.07,95.00 L523.69,96.00 L523.31,97.00 L522.93,98.00 L522.54,99.00 L522.16,100.00 L521.77,101.00 L521.39,102.00 L521.00,103.00 L520.61,104.00 L520.22,105.00 L519.83,106.00 L519.43,107.00 L519.04,108.00 L518.64,109.00 L518.24,110.00 L517.84,111.00 L517.44,112.00 L517.04,113.00 L516.63,114.00 L516.23,115.00 L515.82,116.00 L515.41,117.00 L514.99,118.00 L514.58,119.00 L514.16,120.00 L513.74,121.00 L513.32,122.00 L512.90,123.00 L512.48,124.00 L512.05,125.00 L511.62,126.00 L511.19,127.00 L510.76,128.00 L510.32,129.00 L509.88,130.00 L509.44,131.00 L509.00,132.00 L508.55,133.00 L508.11,134.00" fill="none" stroke="#000" stroke-width="2.8" stroke-linejoin="round"/>
<path d="M555.31,13.00 L555.16,14.00 L555.00,15.00 L554.83,16.00 L554.64,17.00 L554.44,18.00 L554.23,19.00 L554.00,20.00 L553.74,21.00 L553.45,22.00 L553.13,23.00 L552.80,24.00 L552.46,25.00 L552.12,26.00 L551.79,27.00 L551.49,28.00 L551.22,29.00 L551.00,30.00 L550.81,31.00 L550.64,32.00 L550.49,33.00 L550.35,34.00 L550.22,35.00 L550.09,36.00 L549.96,37.00 L549.82,38.00 L549.67,39.00 L549.50,40.00 L549.32,41.00 L549.13,42.00 L548.93,43.00 L548.72,44.00 L548.51,45.00 L548.29,46.00 L548.06,47.00 L547.83,48.00 L547.60,49.00 L547.36,50.00 L547.12,51.00 L546.88,52.00 L546.63,53.00 L546.38,54.00 L546.13,55.00 L545.88,56.00 L545.64,57.00 L545.39,58.00 L545.14,59.00 L544.90,60.00 L544.66,61.00 L544.42,62.00 L544.19,63.00 L543.96,64.00 L543.73,65.00 L543.50,66.00 L543.27,67.00 L543.04,68.00 L542.81,69.00 L542.57,70.00 L542.33,71.00 L542.08,72.00 L541.83,73.00 L541.57,74.00 L541.30,75.00 L541.02,76.00 L540.73,77.00 L540.43,78.00 L540.12,79.00 L539.80,80.00 L539.46,81.00 L539.10,82.00 L538.73,83.00 L538.34,84.00 L537.94,85.00 L537.52,86.00 L537.09,87.00 L536.64,88.00 L536.18,89.00 L535.71,90.00 L535.23,91.00 L534.73,92.00 L534.22,93.00 L533.70,94.00 L533.18,95.00 L532.64,96.00 L532.09,97.00 L531.54,98.00 L530.97,99.00 L530.40,100.00 L529.81,101.00 L529.20,102.00 L528.57,103.00 L527.90,104.00 L527.22,105.00 L526.51,106.00 L525.77,107.00 L525.01,108.00 L524.22,109.00 L523.40,110.00 L522.54,111.00 L521.62,112.00 L520.65,113.00 L519.63,114.00 L518.58,115.00 L517.50,116.00 L515.61,116.50" fill="none" stroke="#000" stroke-width="2.8" stroke-linejoin="round"/>
<path d="M516.82,115.50 L516.41,116.50 L516.00,117.50 L515.59,118.50 L515.17,119.50 L514.75,120.50 L514.33,121.50 L513.91,122.50 L513.49,123.50 L513.06,124.50 L512.64,125.50 L512.21,126.50 L511.77,127.50 L511.56,128.00" fill="none" stroke="#000" stroke-width="3.6" />
<path d="M508.55,133.00 L508.11,134.00 L507.66,135.00 L507.11,136.00 L506.56,137.00 L506.01,138.00 L505.45,139.00" fill="none" stroke="#000" stroke-width="1.6" />
<line x1="433.72" y1="16.2" x2="453.90" y2="16.2" stroke="#000" stroke-width="2.6"/>
<line x1="471.15" y1="16.2" x2="498.63" y2="16.2" stroke="#000" stroke-width="2.6"/>
<line x1="552.15" y1="16.2" x2="555.00" y2="16.2" stroke="#000" stroke-width="2.6"/>
</g>
<path d="M370.7,29.6 C368.5,31.5 366.5,34 365,38" fill="none" stroke="#000" stroke-width="1.2"/>
<polygon points="362.3,38.2 366.6,39.2 364,42.2" fill="#000"/>
<text x="335.0" y="25.3" font-size="9.6" font-weight="normal" fill="#efe8fa" text-anchor="start"  stroke="#efe8fa" stroke-width="0.22"><tspan>Mn</tspan></text>
<text x="374.0" y="31.2" font-size="8.9" font-weight="normal" fill="#f0b088" stroke="#f0b088" stroke-width="2.1" stroke-linejoin="round" text-anchor="start"><tspan>Cu L</tspan></text><text x="374.0" y="31.2" font-size="8.9" font-weight="normal" fill="#1a0f08" stroke="#1a0f08" stroke-width="0.32" text-anchor="start"><tspan>Cu L</tspan></text>
<text x="416.6" y="31.3" font-size="6.0" font-weight="normal" fill="#f0b088" stroke="#f0b088" stroke-width="2.1" stroke-linejoin="round" text-anchor="start"><tspan>Fe</tspan></text><text x="416.6" y="31.3" font-size="6.0" font-weight="normal" fill="#1a0f08" stroke="#1a0f08" stroke-width="0.32" text-anchor="start"><tspan>Fe</tspan></text>
<text x="335.8" y="59.6" font-size="8.6" font-weight="normal" fill="#f7f3ff" text-anchor="start"  stroke="#f7f3ff" stroke-width="0.22"><tspan>Mg</tspan><tspan font-size="6.2" dy="-3.4">2+</tspan></text>
<text x="368.0" y="56.9" font-size="8.6" font-weight="normal" fill="#f7f3ff" text-anchor="start"  stroke="#f7f3ff" stroke-width="0.22"><tspan>Mn</tspan><tspan font-size="6.2" dy="-3.4">2+</tspan></text>
<text x="352.2" y="71.6" font-size="9.4" font-weight="normal" fill="#f0b088" stroke="#f0b088" stroke-width="2.1" stroke-linejoin="round" text-anchor="start"><tspan>Cu</tspan></text><text x="352.2" y="71.6" font-size="9.4" font-weight="normal" fill="#1a0f08" stroke="#1a0f08" stroke-width="0.32" text-anchor="start"><tspan>Cu</tspan></text>
<text x="339.6" y="82.2" font-size="9.4" font-weight="normal" fill="#f0b088" stroke="#f0b088" stroke-width="2.1" stroke-linejoin="round" text-anchor="start"><tspan>Ni</tspan></text><text x="339.6" y="82.2" font-size="9.4" font-weight="normal" fill="#1a0f08" stroke="#1a0f08" stroke-width="0.32" text-anchor="start"><tspan>Ni</tspan></text>
<text x="368.9" y="79.4" font-size="9.4" font-weight="normal" fill="#f0b088" stroke="#f0b088" stroke-width="2.1" stroke-linejoin="round" text-anchor="start"><tspan>Zn</tspan></text><text x="368.9" y="79.4" font-size="9.4" font-weight="normal" fill="#1a0f08" stroke="#1a0f08" stroke-width="0.32" text-anchor="start"><tspan>Zn</tspan></text>
<text x="337.6" y="101.6" font-size="9.4" font-weight="normal" fill="#f0b088" stroke="#f0b088" stroke-width="2.1" stroke-linejoin="round" text-anchor="start"><tspan>Co</tspan></text><text x="337.6" y="101.6" font-size="9.4" font-weight="normal" fill="#1a0f08" stroke="#1a0f08" stroke-width="0.32" text-anchor="start"><tspan>Co</tspan></text>
<text x="356.8" y="97.1" font-size="9.4" font-weight="normal" fill="#f0b088" stroke="#f0b088" stroke-width="2.1" stroke-linejoin="round" text-anchor="start"><tspan>Fe</tspan></text><text x="356.8" y="97.1" font-size="9.4" font-weight="normal" fill="#1a0f08" stroke="#1a0f08" stroke-width="0.32" text-anchor="start"><tspan>Fe</tspan></text>
<text x="336.2" y="148.2" font-size="7.0" font-weight="normal" fill="#f0b088" stroke="#f0b088" stroke-width="2.1" stroke-linejoin="round" text-anchor="start"><tspan>Zn</tspan></text><text x="336.2" y="148.2" font-size="7.0" font-weight="normal" fill="#1a0f08" stroke="#1a0f08" stroke-width="0.32" text-anchor="start"><tspan>Zn</tspan></text>
<text x="372.3" y="130.0" font-size="9.4" font-weight="normal" fill="#f0b088" stroke="#f0b088" stroke-width="2.1" stroke-linejoin="round" text-anchor="start"><tspan>Co</tspan></text><text x="372.3" y="130.0" font-size="9.4" font-weight="normal" fill="#1a0f08" stroke="#1a0f08" stroke-width="0.32" text-anchor="start"><tspan>Co</tspan></text>
<text x="406.5" y="112.3" font-size="9.4" font-weight="normal" fill="#f0b088" stroke="#f0b088" stroke-width="2.1" stroke-linejoin="round" text-anchor="start"><tspan>Ni</tspan></text><text x="406.5" y="112.3" font-size="9.4" font-weight="normal" fill="#1a0f08" stroke="#1a0f08" stroke-width="0.32" text-anchor="start"><tspan>Ni</tspan></text>
<text x="393.9" y="182.2" font-size="9.4" font-weight="normal" fill="#f0b088" stroke="#f0b088" stroke-width="2.1" stroke-linejoin="round" text-anchor="start"><tspan>Cu</tspan></text><text x="393.9" y="182.2" font-size="9.4" font-weight="normal" fill="#1a0f08" stroke="#1a0f08" stroke-width="0.32" text-anchor="start"><tspan>Cu</tspan></text>
<text x="414.6" y="221.4" font-size="9.4" font-weight="normal" fill="#f0b088" stroke="#f0b088" stroke-width="2.1" stroke-linejoin="round" text-anchor="start"><tspan>Cu</tspan><tspan font-size="6.2" dy="-3.4">1+</tspan></text><text x="414.6" y="221.4" font-size="9.4" font-weight="normal" fill="#1a0f08" stroke="#1a0f08" stroke-width="0.32" text-anchor="start"><tspan>Cu</tspan><tspan font-size="6.2" dy="-3.4">1+</tspan></text>
<text x="390.8" y="233.2" font-size="9.6" font-weight="normal" fill="#0a1510" text-anchor="start"  stroke="#0a1510" stroke-width="0.22"><tspan>Co</tspan><tspan font-size="6.4" dy="-3.4">2.67+</tspan></text>
<text x="488.6" y="88.4" font-size="9.4" font-weight="normal" fill="#f0b088" stroke="#f0b088" stroke-width="2.1" stroke-linejoin="round" text-anchor="start"><tspan>Cu</tspan><tspan font-size="6.2" dy="-3.4">1+</tspan></text><text x="488.6" y="88.4" font-size="9.4" font-weight="normal" fill="#1a0f08" stroke="#1a0f08" stroke-width="0.32" text-anchor="start"><tspan>Cu</tspan><tspan font-size="6.2" dy="-3.4">1+</tspan></text>
<text x="485.2" y="103.2" font-size="9.6" font-weight="normal" fill="#111" text-anchor="start"  stroke="#111" stroke-width="0.22"><tspan>Co</tspan><tspan font-size="6.4" dy="-3.4">2+</tspan></text>
<text x="530.0" y="23.2" font-size="7.4" font-weight="normal" fill="#f0b088" stroke="#f0b088" stroke-width="2.1" stroke-linejoin="round" text-anchor="start"><tspan>Cu L</tspan></text><text x="530.0" y="23.2" font-size="7.4" font-weight="normal" fill="#1a0f08" stroke="#1a0f08" stroke-width="0.32" text-anchor="start"><tspan>Cu L</tspan></text>
<text x="452.6" y="71.5" font-size="8.8" font-weight="bold" fill="#111" text-anchor="start"  stroke="#111" stroke-width="0.22"><tspan>Mn</tspan><tspan font-size="6.2" dy="-3.4">2+</tspan></text>
<text x="442.2" y="84.7" font-size="8.8" font-weight="bold" fill="#111" text-anchor="start"  stroke="#111" stroke-width="0.22"><tspan>Fe</tspan><tspan font-size="6.2" dy="-3.4">2.67+</tspan></text>
<text transform="translate(407.4,75.0) rotate(-57)" font-size="8.6" font-weight="normal" fill="#000" text-anchor="start" stroke="#000" stroke-width="0.25"><tspan>Fe</tspan><tspan font-size="5.8" dy="-3.4">2+</tspan></text>
<text transform="translate(472.6,92.5) rotate(-62)" font-size="7.2" font-weight="normal" fill="#f0b088" stroke="#f0b088" stroke-width="2.1" stroke-linejoin="round" text-anchor="start"><tspan>Cu</tspan></text><text transform="translate(472.6,92.5) rotate(-62)" font-size="7.2" font-weight="normal" fill="#1a0f08" stroke="#1a0f08" stroke-width="0.32" text-anchor="start"><tspan>Cu</tspan></text>
<text transform="translate(503.8,33.0) rotate(-64)" font-size="7.0" font-weight="normal" fill="#f0b088" stroke="#f0b088" stroke-width="2.1" stroke-linejoin="round" text-anchor="start"><tspan>Cu</tspan><tspan font-size="5.0" dy="-3.4">1+</tspan></text><text transform="translate(503.8,33.0) rotate(-64)" font-size="7.0" font-weight="normal" fill="#1a0f08" stroke="#1a0f08" stroke-width="0.32" text-anchor="start"><tspan>Cu</tspan><tspan font-size="5.0" dy="-3.4">1+</tspan></text>
<text transform="translate(493.0,58.6) rotate(-62)" font-size="8.0" font-weight="normal" fill="#111" text-anchor="start" stroke="#111" stroke-width="0.45"><tspan>Fe</tspan><tspan font-size="5.6" dy="-3.0">2.67+</tspan></text>
<text transform="translate(453.2,115.2) rotate(-54)" font-size="8.0" font-weight="normal" fill="#111" text-anchor="start" stroke="#111" stroke-width="0.45"><tspan>Fe</tspan><tspan font-size="5.6" dy="-3.0">2.67+</tspan></text>
<text transform="translate(531.6,84.6) rotate(-64)" font-size="8.8" font-weight="normal" fill="#000" text-anchor="start" stroke="#000" stroke-width="0.3"><tspan>Co</tspan><tspan font-size="6.0" dy="-3.4">2+</tspan></text>
<text transform="translate(557.2,32.6) rotate(-70)" font-size="7.6" font-weight="normal" fill="#fff" text-anchor="start" stroke="#111" stroke-width="0.8" paint-order="stroke"><tspan>Co</tspan><tspan font-size="5.4" dy="-3.0">2+</tspan></text>
<text transform="translate(462.0,209.5) rotate(-46)" font-size="9.0" font-weight="normal" fill="#f4fff6" text-anchor="start"  stroke="#f4fff6" stroke-width="0.22"><tspan>Mn</tspan><tspan font-size="6.2" dy="-3.4">2.67+</tspan></text>
<text x="509.9" y="196.8" font-size="9.0" font-weight="normal" fill="#f4fff6" text-anchor="start"  stroke="#f4fff6" stroke-width="0.22"><tspan>Mn</tspan><tspan font-size="6.2" dy="-3.4">3+</tspan></text>
<text x="543.8" y="186.6" font-size="9.0" font-weight="normal" fill="#f4fff6" text-anchor="start"  stroke="#f4fff6" stroke-width="0.22"><tspan>Mn</tspan><tspan font-size="6.2" dy="-3.4">4+</tspan></text>
<text x="547.8" y="198.4" font-size="9.0" font-weight="normal" fill="#f4fff6" text-anchor="start"  stroke="#f4fff6" stroke-width="0.22"><tspan>Fe</tspan><tspan font-size="6.2" dy="-3.4">3+</tspan></text>
<text x="548.0" y="213.2" font-size="9.0" font-weight="normal" fill="#f4fff6" text-anchor="start"  stroke="#f4fff6" stroke-width="0.22"><tspan>Ni</tspan><tspan font-size="6.2" dy="-3.4">2+</tspan></text>
<text x="543.1" y="225.3" font-size="9.0" font-weight="normal" fill="#f4fff6" text-anchor="start"  stroke="#f4fff6" stroke-width="0.22"><tspan>Mg</tspan><tspan font-size="6.2" dy="-3.4">2+</tspan></text>
<text x="521.3" y="238.1" font-size="9.0" font-weight="normal" fill="#f4fff6" text-anchor="start"  stroke="#f4fff6" stroke-width="0.22"><tspan>Co</tspan><tspan font-size="6.2" dy="-3.4">2.67+</tspan></text>
<circle cx="420.0" cy="53.8" r="3.7" fill="#000"/><text x="420.0" y="56.30" font-size="7" font-weight="bold" fill="#fff" text-anchor="middle" stroke="#fff" stroke-width="0.22">3</text>
<circle cx="468.0" cy="53.3" r="4.0" fill="#000"/><text x="468.0" y="55.80" font-size="7" font-weight="bold" fill="#fff" text-anchor="middle" stroke="#fff" stroke-width="0.22">2</text>
<circle cx="541.4" cy="53.9" r="3.7" fill="#000"/><text x="541.4" y="56.40" font-size="7" font-weight="bold" fill="#fff" text-anchor="middle" stroke="#fff" stroke-width="0.22">1</text>
<rect x="332.5" y="15" width="233.5" height="226.3" fill="none" stroke="#444" stroke-width="0.7"/>
<line x1="330.2" y1="15.20" x2="332.5" y2="15.20" stroke="#333" stroke-width="0.8"/>
<text x="325.3" y="19.10" font-size="9.8" font-weight="bold" text-anchor="end" stroke="#000" stroke-width="0.22">1200</text>
<line x1="330.2" y1="40.32" x2="332.5" y2="40.32" stroke="#333" stroke-width="0.8"/>
<text x="325.3" y="44.22" font-size="9.8" font-weight="bold" text-anchor="end" stroke="#000" stroke-width="0.22">1100</text>
<line x1="330.2" y1="65.44" x2="332.5" y2="65.44" stroke="#333" stroke-width="0.8"/>
<text x="325.3" y="69.34" font-size="9.8" font-weight="bold" text-anchor="end" stroke="#000" stroke-width="0.22">1000</text>
<line x1="330.2" y1="90.57" x2="332.5" y2="90.57" stroke="#333" stroke-width="0.8"/>
<text x="325.3" y="94.47" font-size="9.8" font-weight="bold" text-anchor="end" stroke="#000" stroke-width="0.22">900</text>
<line x1="330.2" y1="115.69" x2="332.5" y2="115.69" stroke="#333" stroke-width="0.8"/>
<text x="325.3" y="119.59" font-size="9.8" font-weight="bold" text-anchor="end" stroke="#000" stroke-width="0.22">800</text>
<line x1="330.2" y1="140.81" x2="332.5" y2="140.81" stroke="#333" stroke-width="0.8"/>
<text x="325.3" y="144.71" font-size="9.8" font-weight="bold" text-anchor="end" stroke="#000" stroke-width="0.22">700</text>
<line x1="330.2" y1="165.93" x2="332.5" y2="165.93" stroke="#333" stroke-width="0.8"/>
<text x="325.3" y="169.83" font-size="9.8" font-weight="bold" text-anchor="end" stroke="#000" stroke-width="0.22">600</text>
<line x1="330.2" y1="191.05" x2="332.5" y2="191.05" stroke="#333" stroke-width="0.8"/>
<text x="325.3" y="194.95" font-size="9.8" font-weight="bold" text-anchor="end" stroke="#000" stroke-width="0.22">500</text>
<line x1="330.2" y1="216.18" x2="332.5" y2="216.18" stroke="#333" stroke-width="0.8"/>
<text x="325.3" y="220.08" font-size="9.8" font-weight="bold" text-anchor="end" stroke="#000" stroke-width="0.22">400</text>
<line x1="330.2" y1="241.30" x2="332.5" y2="241.30" stroke="#333" stroke-width="0.8"/>
<text x="325.3" y="245.20" font-size="9.8" font-weight="bold" text-anchor="end" stroke="#000" stroke-width="0.22">300</text>
<line x1="333.00" y1="241.3" x2="333.00" y2="243.6" stroke="#555" stroke-width="0.7"/>
<text transform="translate(336.00,247.0) rotate(-60)" font-size="9.5" font-weight="bold" text-anchor="end" stroke="#000" stroke-width="0.22">-22.5</text>
<line x1="356.30" y1="241.3" x2="356.30" y2="243.6" stroke="#555" stroke-width="0.7"/>
<text transform="translate(356.50,249.4) rotate(-60)" font-size="7.7" fill="#222" stroke="#222" stroke-width="0.3" text-anchor="end">-20.0</text>
<line x1="379.60" y1="241.3" x2="379.60" y2="243.6" stroke="#555" stroke-width="0.7"/>
<text transform="translate(379.80,249.4) rotate(-60)" font-size="7.7" fill="#222" stroke="#222" stroke-width="0.3" text-anchor="end">-17.5</text>
<line x1="402.90" y1="241.3" x2="402.90" y2="243.6" stroke="#555" stroke-width="0.7"/>
<text transform="translate(403.10,249.4) rotate(-60)" font-size="7.7" fill="#222" stroke="#222" stroke-width="0.3" text-anchor="end">-15.0</text>
<line x1="426.20" y1="241.3" x2="426.20" y2="243.6" stroke="#555" stroke-width="0.7"/>
<text transform="translate(426.40,249.4) rotate(-60)" font-size="7.7" fill="#222" stroke="#222" stroke-width="0.3" text-anchor="end">-12.5</text>
<line x1="449.50" y1="241.3" x2="449.50" y2="243.6" stroke="#555" stroke-width="0.7"/>
<text transform="translate(452.50,247.0) rotate(-60)" font-size="9.5" font-weight="bold" text-anchor="end" stroke="#000" stroke-width="0.22">-10.0</text>
<line x1="472.80" y1="241.3" x2="472.80" y2="243.6" stroke="#555" stroke-width="0.7"/>
<text transform="translate(473.00,249.4) rotate(-60)" font-size="7.7" fill="#222" stroke="#222" stroke-width="0.3" text-anchor="end">-7.5</text>
<line x1="496.10" y1="241.3" x2="496.10" y2="243.6" stroke="#555" stroke-width="0.7"/>
<text transform="translate(496.30,249.4) rotate(-60)" font-size="7.7" fill="#222" stroke="#222" stroke-width="0.3" text-anchor="end">-5.0</text>
<line x1="519.40" y1="241.3" x2="519.40" y2="243.6" stroke="#555" stroke-width="0.7"/>
<text transform="translate(519.60,249.4) rotate(-60)" font-size="7.7" fill="#222" stroke="#222" stroke-width="0.3" text-anchor="end">-2.5</text>
<line x1="542.70" y1="241.3" x2="542.70" y2="243.6" stroke="#555" stroke-width="0.7"/>
<text transform="translate(542.90,249.4) rotate(-60)" font-size="7.7" fill="#222" stroke="#222" stroke-width="0.3" text-anchor="end">0.0</text>
<line x1="566.00" y1="241.3" x2="566.00" y2="243.6" stroke="#555" stroke-width="0.7"/>
<text transform="translate(569.00,247.0) rotate(-60)" font-size="9.5" font-weight="bold" text-anchor="end" stroke="#000" stroke-width="0.22">2.5</text>
<text x="496" y="276.3" font-size="10.6" font-weight="bold" textLength="70" lengthAdjust="spacingAndGlyphs" stroke="#000" stroke-width="0.22">Log (<tspan font-style="italic">P</tspan>O<tspan font-size="7.6" dy="2.2">2</tspan><tspan dy="-2.2"> /</tspan><tspan font-style="italic">P</tspan><tspan font-size="7.6" dy="2.2">atm</tspan><tspan dy="-2.2">)</tspan></text>
<text transform="translate(298.2,129.6) rotate(-90)" text-anchor="middle" font-size="10.2" font-weight="bold" stroke="#000" stroke-width="0.22">Temperature (<tspan font-size="7" dy="-3">o</tspan><tspan dy="3">C)</tspan></text>
<rect x="575.2" y="70.5" width="109.6" height="13.6" fill="#000"/>
<rect x="612.3" y="70.5" width="1" height="13.6" fill="#777"/><rect x="648.2" y="70.5" width="1" height="13.6" fill="#777"/>
<text x="593.8" y="80.7" font-size="9.4" font-weight="bold" fill="#fff" text-anchor="middle" stroke="#fff" stroke-width="0.22">1</text>
<text x="630.8" y="80.7" font-size="9.4" font-weight="bold" fill="#fff" text-anchor="middle" stroke="#fff" stroke-width="0.22">2</text>
<text x="667.0" y="80.7" font-size="9.4" font-weight="bold" fill="#fff" text-anchor="middle" stroke="#fff" stroke-width="0.22">3</text>
<rect x="575.2" y="86" width="37.1" height="104.8" fill="#8fd5c3"/>
<rect x="575.2" y="100.0" width="37.1" height="0.9" fill="#b5e4d7"/>
<rect x="575.2" y="115.0" width="37.1" height="0.9" fill="#b5e4d7"/>
<rect x="575.2" y="130.0" width="37.1" height="0.9" fill="#b5e4d7"/>
<rect x="575.2" y="145.0" width="37.1" height="0.9" fill="#b5e4d7"/>
<rect x="575.2" y="160.0" width="37.1" height="0.9" fill="#b5e4d7"/>
<rect x="575.2" y="175.0" width="37.1" height="0.9" fill="#b5e4d7"/>
<text x="579.3" y="95.7" font-size="9.5" fill="#111" stroke="#111" stroke-width="0.22"><tspan font-weight="normal">Mg</tspan><tspan font-size="5.7" dy="-3.3" fill="#111">2+</tspan></text>
<text x="579.3" y="110.7" font-size="9.5" fill="#111" stroke="#111" stroke-width="0.22"><tspan font-weight="normal">Co</tspan><tspan font-size="5.7" dy="-3.3" fill="#111">2+</tspan></text>
<text x="579.3" y="125.7" font-size="9.5" fill="#111" stroke="#111" stroke-width="0.22"><tspan font-weight="normal">Ni</tspan><tspan font-size="5.7" dy="-3.3" fill="#111">2+</tspan></text>
<text x="579.3" y="140.7" font-size="9.5" fill="#111" stroke="#111" stroke-width="0.22"><tspan font-weight="normal">Cu</tspan><tspan font-size="5.7" dy="-3.3" fill="#111">2+</tspan></text>
<text x="579.3" y="155.7" font-size="9.5" fill="#111" stroke="#111" stroke-width="0.22"><tspan font-weight="normal">Zn</tspan><tspan font-size="5.7" dy="-3.3" fill="#111">2+</tspan></text>
<text x="579.3" y="170.7" font-size="9.5" fill="#111" stroke="#111" stroke-width="0.22"><tspan font-weight="bold">Mn</tspan><tspan font-size="5.7" dy="-3.3" fill="#e0692b">2.67+</tspan></text>
<text x="579.3" y="185.7" font-size="9.5" fill="#111" stroke="#111" stroke-width="0.22"><tspan font-weight="bold">Fe</tspan><tspan font-size="5.7" dy="-3.3" fill="#e0692b">3+</tspan></text>
<rect x="613.3" y="86" width="34.9" height="104.8" fill="#edecf7"/>
<rect x="613.3" y="100.0" width="34.9" height="0.9" fill="#f7f7fb"/>
<rect x="613.3" y="115.0" width="34.9" height="0.9" fill="#f7f7fb"/>
<rect x="613.3" y="130.0" width="34.9" height="0.9" fill="#f7f7fb"/>
<rect x="613.3" y="145.0" width="34.9" height="0.9" fill="#f7f7fb"/>
<rect x="613.3" y="160.0" width="34.9" height="0.9" fill="#f7f7fb"/>
<rect x="613.3" y="175.0" width="34.9" height="0.9" fill="#f7f7fb"/>
<text x="615.9" y="95.7" font-size="9.5" fill="#111" stroke="#111" stroke-width="0.22"><tspan font-weight="normal">Mg</tspan><tspan font-size="5.7" dy="-3.3" fill="#111">2+</tspan></text>
<text x="615.9" y="110.7" font-size="9.5" fill="#111" stroke="#111" stroke-width="0.22"><tspan font-weight="normal">Co</tspan><tspan font-size="5.7" dy="-3.3" fill="#111">2+</tspan></text>
<text x="615.9" y="125.7" font-size="9.5" fill="#111" stroke="#111" stroke-width="0.22"><tspan font-weight="normal">Ni</tspan><tspan font-size="5.7" dy="-3.3" fill="#111">2+</tspan></text>
<text x="615.9" y="140.7" font-size="9.5" fill="#111" stroke="#111" stroke-width="0.22"><tspan font-weight="normal">Cu</tspan><tspan font-size="5.7" dy="-3.3" fill="#e0692b">0+</tspan></text>
<text x="615.9" y="155.7" font-size="9.5" fill="#111" stroke="#111" stroke-width="0.22"><tspan font-weight="normal">Zn</tspan><tspan font-size="5.7" dy="-3.3" fill="#111">2+</tspan></text>
<text x="615.9" y="170.7" font-size="9.5" fill="#111" stroke="#111" stroke-width="0.22"><tspan font-weight="bold">Mn</tspan><tspan font-size="5.7" dy="-3.3" fill="#111">2+</tspan></text>
<text x="615.9" y="185.7" font-size="9.5" fill="#111" stroke="#111" stroke-width="0.22"><tspan font-weight="bold">Fe</tspan><tspan font-size="5.7" dy="-3.3" fill="#e0692b">2.67+</tspan></text>
<rect x="649.3" y="86" width="35.5" height="104.8" fill="#7e7ac0"/>
<rect x="649.3" y="100.0" width="35.5" height="0.9" fill="#9e9ad0"/>
<rect x="649.3" y="115.0" width="35.5" height="0.9" fill="#9e9ad0"/>
<rect x="649.3" y="130.0" width="35.5" height="0.9" fill="#9e9ad0"/>
<rect x="649.3" y="145.0" width="35.5" height="0.9" fill="#9e9ad0"/>
<rect x="649.3" y="160.0" width="35.5" height="0.9" fill="#9e9ad0"/>
<rect x="649.3" y="175.0" width="35.5" height="0.9" fill="#9e9ad0"/>
<text x="653.3" y="95.7" font-size="9.5" fill="#111" stroke="#111" stroke-width="0.22"><tspan font-weight="normal">Mg</tspan><tspan font-size="5.7" dy="-3.3" fill="#111">2+</tspan></text>
<text x="653.3" y="110.7" font-size="9.5" fill="#111" stroke="#111" stroke-width="0.22"><tspan font-weight="normal">Co</tspan><tspan font-size="5.7" dy="-3.3" fill="#f2b705">0+</tspan></text>
<text x="653.3" y="125.7" font-size="9.5" fill="#111" stroke="#111" stroke-width="0.22"><tspan font-weight="normal">Ni</tspan><tspan font-size="5.7" dy="-3.3" fill="#f2b705">0+</tspan></text>
<text x="653.3" y="140.7" font-size="9.5" fill="#111" stroke="#111" stroke-width="0.22"><tspan font-weight="normal">Cu</tspan><tspan font-size="5.7" dy="-3.3" fill="#f2b705">0+</tspan></text>
<text x="653.3" y="155.7" font-size="9.5" fill="#111" stroke="#111" stroke-width="0.22"><tspan font-weight="normal">Zn</tspan><tspan font-size="5.7" dy="-3.3" fill="#111">2+</tspan></text>
<text x="653.3" y="170.7" font-size="9.5" fill="#111" stroke="#111" stroke-width="0.22"><tspan font-weight="bold">Mn</tspan><tspan font-size="5.7" dy="-3.3" fill="#111">2+</tspan></text>
<text x="653.3" y="185.7" font-size="9.5" fill="#111" stroke="#111" stroke-width="0.22"><tspan font-weight="bold">Fe</tspan><tspan font-size="5.7" dy="-3.3" fill="#111">2+</tspan></text>
</svg></body></html>
